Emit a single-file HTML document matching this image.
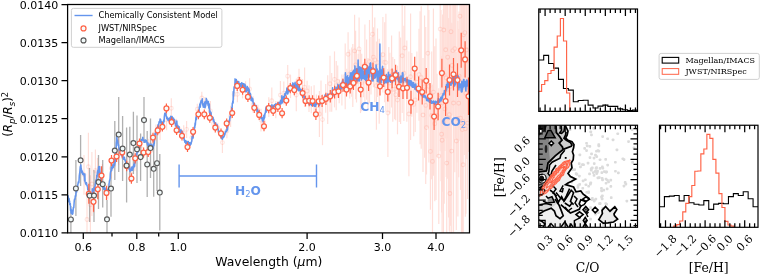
<!DOCTYPE html>
<html><head><meta charset="utf-8"><title>Transmission spectrum</title><style>html,body{margin:0;padding:0;background:#fff}body{width:760px;height:275px;overflow:hidden}</style></head><body>
<svg width="760" height="275" viewBox="0 0 760 275" style="display:block">
<rect width="760" height="275" fill="#fff"/>
<clipPath id="c"><rect x="67.6" y="4.5" width="401.9" height="228.4"/></clipPath>
<g clip-path="url(#c)">
<g stroke="#b0b0b0" stroke-width="1.3"><line x1="70.9" y1="206.0" x2="70.9" y2="232.9"/><line x1="75.9" y1="160.0" x2="75.9" y2="216.0"/><line x1="80.6" y1="135.0" x2="80.6" y2="186.0"/><line x1="89.6" y1="168.0" x2="89.6" y2="222.0"/><line x1="94.0" y1="170.0" x2="94.0" y2="222.0"/><line x1="98.5" y1="155.0" x2="98.5" y2="209.0"/><line x1="102.7" y1="160.0" x2="102.7" y2="207.5"/><line x1="107.0" y1="200.0" x2="107.0" y2="232.9"/><line x1="111.0" y1="162.0" x2="111.0" y2="216.7"/><line x1="114.8" y1="121.0" x2="114.8" y2="180.0"/><line x1="118.7" y1="97.0" x2="118.7" y2="172.0"/><line x1="122.6" y1="116.0" x2="122.6" y2="181.0"/><line x1="126.6" y1="127.6" x2="126.6" y2="202.5"/><line x1="129.8" y1="126.8" x2="129.8" y2="182.0"/><line x1="133.4" y1="111.7" x2="133.4" y2="174.0"/><line x1="137.0" y1="115.4" x2="137.0" y2="183.0"/><line x1="140.6" y1="133.5" x2="140.6" y2="181.0"/><line x1="144.0" y1="97.0" x2="144.0" y2="143.0"/><line x1="147.2" y1="131.0" x2="147.2" y2="197.0"/><line x1="150.5" y1="118.4" x2="150.5" y2="178.0"/><line x1="153.7" y1="141.0" x2="153.7" y2="196.7"/><line x1="157.0" y1="135.0" x2="157.0" y2="191.0"/><line x1="159.8" y1="154.0" x2="159.8" y2="230.5"/></g>
<g stroke="#ff6347" stroke-width="1.15" opacity="0.21"><line x1="84.0" y1="154.9" x2="84.0" y2="194.8"/><line x1="87.0" y1="195.8" x2="87.0" y2="232.9"/><line x1="88.4" y1="132.8" x2="88.4" y2="200.7"/><line x1="90.4" y1="175.2" x2="90.4" y2="232.9"/><line x1="91.9" y1="152.0" x2="91.9" y2="216.0"/><line x1="93.8" y1="186.0" x2="93.8" y2="212.7"/><line x1="95.4" y1="149.5" x2="95.4" y2="191.5"/><line x1="97.5" y1="157.9" x2="97.5" y2="184.9"/><line x1="102.3" y1="163.9" x2="102.3" y2="187.8"/><line x1="107.8" y1="184.1" x2="107.8" y2="199.5"/><line x1="111.3" y1="158.3" x2="111.3" y2="178.6"/><line x1="115.1" y1="148.2" x2="115.1" y2="167.1"/><line x1="118.6" y1="138.3" x2="118.6" y2="164.7"/><line x1="121.8" y1="149.1" x2="121.8" y2="159.0"/><line x1="127.7" y1="157.1" x2="127.7" y2="170.5"/><line x1="130.8" y1="166.2" x2="130.8" y2="182.5"/><line x1="134.9" y1="146.2" x2="134.9" y2="170.8"/><line x1="141.6" y1="140.9" x2="141.6" y2="156.8"/><line x1="148.5" y1="138.8" x2="148.5" y2="150.5"/><line x1="152.4" y1="137.3" x2="152.4" y2="152.3"/><line x1="155.9" y1="124.4" x2="155.9" y2="140.7"/><line x1="160.1" y1="118.3" x2="160.1" y2="139.9"/><line x1="166.6" y1="109.5" x2="166.6" y2="130.3"/><line x1="171.3" y1="98.2" x2="171.3" y2="118.5"/><line x1="176.5" y1="118.8" x2="176.5" y2="132.5"/><line x1="179.7" y1="126.8" x2="179.7" y2="133.1"/><line x1="183.7" y1="125.2" x2="183.7" y2="140.5"/><line x1="186.6" y1="120.9" x2="186.6" y2="137.9"/><line x1="191.8" y1="132.5" x2="191.8" y2="142.7"/><line x1="197.3" y1="103.7" x2="197.3" y2="114.6"/><line x1="201.8" y1="91.8" x2="201.8" y2="104.2"/><line x1="205.0" y1="97.0" x2="205.0" y2="108.9"/><line x1="210.4" y1="101.1" x2="210.4" y2="120.7"/><line x1="213.5" y1="120.5" x2="213.5" y2="127.2"/><line x1="217.7" y1="123.1" x2="217.7" y2="132.5"/><line x1="222.4" y1="132.1" x2="222.4" y2="153.1"/><line x1="226.9" y1="123.7" x2="226.9" y2="138.2"/><line x1="230.6" y1="105.8" x2="230.6" y2="127.1"/><line x1="234.1" y1="89.3" x2="234.1" y2="99.7"/><line x1="237.4" y1="86.4" x2="237.4" y2="102.2"/><line x1="242.5" y1="83.1" x2="242.5" y2="98.4"/><line x1="245.6" y1="81.2" x2="245.6" y2="93.5"/><line x1="249.6" y1="78.2" x2="249.6" y2="99.7"/><line x1="253.1" y1="96.3" x2="253.1" y2="112.7"/><line x1="257.9" y1="104.8" x2="257.9" y2="115.4"/><line x1="261.0" y1="108.8" x2="261.0" y2="131.4"/><line x1="263.8" y1="115.1" x2="263.8" y2="129.7"/><line x1="268.8" y1="97.3" x2="268.8" y2="116.9"/><line x1="271.8" y1="87.5" x2="271.8" y2="114.0"/><line x1="275.8" y1="101.1" x2="275.8" y2="118.2"/><line x1="280.4" y1="81.0" x2="280.4" y2="109.3"/><line x1="283.8" y1="81.6" x2="283.8" y2="104.5"/><line x1="287.7" y1="64.9" x2="287.7" y2="87.4"/><line x1="290.5" y1="74.6" x2="290.5" y2="98.1"/><line x1="296.3" y1="78.7" x2="296.3" y2="111.3"/><line x1="299.0" y1="68.7" x2="299.0" y2="89.3"/><line x1="302.5" y1="79.0" x2="302.5" y2="100.5"/><line x1="304.6" y1="67.6" x2="304.6" y2="107.0"/><line x1="307.1" y1="80.7" x2="307.1" y2="101.3"/><line x1="309.0" y1="85.2" x2="309.0" y2="112.0"/><line x1="311.3" y1="86.3" x2="311.3" y2="113.3"/><line x1="314.1" y1="85.3" x2="314.1" y2="115.6"/><line x1="316.4" y1="94.6" x2="316.4" y2="116.7"/><line x1="319.4" y1="91.0" x2="319.4" y2="136.9"/><line x1="321.0" y1="80.5" x2="321.0" y2="116.8"/><line x1="322.5" y1="94.0" x2="322.5" y2="145.2"/><line x1="325.7" y1="84.0" x2="325.7" y2="112.8"/><line x1="327.7" y1="75.2" x2="327.7" y2="124.1"/><line x1="330.0" y1="55.8" x2="330.0" y2="111.8"/><line x1="331.7" y1="72.9" x2="331.7" y2="111.7"/><line x1="334.5" y1="51.4" x2="334.5" y2="107.4"/><line x1="336.2" y1="60.9" x2="336.2" y2="110.3"/><line x1="337.7" y1="65.4" x2="337.7" y2="97.4"/><line x1="339.2" y1="79.4" x2="339.2" y2="103.3"/><line x1="341.9" y1="74.5" x2="341.9" y2="105.4"/><line x1="345.2" y1="43.5" x2="345.2" y2="109.2"/><line x1="346.8" y1="68.8" x2="346.8" y2="94.8"/><line x1="348.1" y1="32.3" x2="348.1" y2="76.2"/><line x1="349.7" y1="49.5" x2="349.7" y2="98.4"/><line x1="351.7" y1="47.6" x2="351.7" y2="96.7"/><line x1="352.8" y1="44.1" x2="352.8" y2="107.0"/><line x1="354.6" y1="14.8" x2="354.6" y2="87.0"/><line x1="355.6" y1="30.7" x2="355.6" y2="99.2"/><line x1="356.5" y1="49.9" x2="356.5" y2="102.5"/><line x1="358.2" y1="53.8" x2="358.2" y2="88.8"/><line x1="359.1" y1="17.4" x2="359.1" y2="80.4"/><line x1="360.5" y1="50.2" x2="360.5" y2="113.1"/><line x1="361.7" y1="53.7" x2="361.7" y2="111.3"/><line x1="363.4" y1="63.6" x2="363.4" y2="97.2"/><line x1="364.9" y1="24.6" x2="364.9" y2="104.4"/><line x1="366.6" y1="39.5" x2="366.6" y2="99.7"/><line x1="368.0" y1="57.9" x2="368.0" y2="109.4"/><line x1="369.5" y1="20.0" x2="369.5" y2="103.2"/><line x1="371.0" y1="36.9" x2="371.0" y2="94.6"/><line x1="372.4" y1="4.5" x2="372.4" y2="67.3"/><line x1="373.4" y1="27.3" x2="373.4" y2="87.2"/><line x1="374.8" y1="17.6" x2="374.8" y2="102.3"/><line x1="376.4" y1="41.5" x2="376.4" y2="129.8"/><line x1="377.5" y1="28.4" x2="377.5" y2="96.9"/><line x1="379.2" y1="38.8" x2="379.2" y2="123.8"/><line x1="381.1" y1="52.6" x2="381.1" y2="89.5"/><line x1="382.9" y1="16.9" x2="382.9" y2="92.5"/><line x1="384.7" y1="22.3" x2="384.7" y2="102.3"/><line x1="385.9" y1="13.7" x2="385.9" y2="111.5"/><line x1="387.9" y1="68.9" x2="387.9" y2="157.1"/><line x1="388.8" y1="47.1" x2="388.8" y2="102.0"/><line x1="389.9" y1="52.7" x2="389.9" y2="113.5"/><line x1="391.6" y1="35.4" x2="391.6" y2="107.6"/><line x1="392.8" y1="57.0" x2="392.8" y2="121.8"/><line x1="394.6" y1="59.1" x2="394.6" y2="119.2"/><line x1="395.7" y1="69.1" x2="395.7" y2="120.3"/><line x1="397.5" y1="65.6" x2="397.5" y2="134.3"/><line x1="399.3" y1="31.4" x2="399.3" y2="122.1"/><line x1="400.6" y1="37.5" x2="400.6" y2="123.9"/><line x1="402.2" y1="4.5" x2="402.2" y2="113.0"/><line x1="403.9" y1="25.7" x2="403.9" y2="121.0"/><line x1="404.8" y1="5.9" x2="404.8" y2="90.2"/><line x1="406.8" y1="40.6" x2="406.8" y2="121.7"/><line x1="408.9" y1="51.6" x2="408.9" y2="176.3"/><line x1="410.6" y1="13.4" x2="410.6" y2="140.1"/><line x1="411.8" y1="53.1" x2="411.8" y2="116.8"/><line x1="413.7" y1="72.5" x2="413.7" y2="136.3"/><line x1="415.2" y1="67.8" x2="415.2" y2="132.0"/><line x1="416.9" y1="51.4" x2="416.9" y2="112.7"/><line x1="419.0" y1="28.7" x2="419.0" y2="120.7"/><line x1="420.1" y1="11.2" x2="420.1" y2="144.2"/><line x1="421.2" y1="6.2" x2="421.2" y2="148.8"/><line x1="423.0" y1="57.9" x2="423.0" y2="172.1"/><line x1="424.6" y1="15.5" x2="424.6" y2="157.7"/><line x1="425.7" y1="27.0" x2="425.7" y2="183.9"/><line x1="426.5" y1="80.7" x2="426.5" y2="174.5"/><line x1="427.9" y1="4.5" x2="427.9" y2="127.8"/><line x1="428.9" y1="10.1" x2="428.9" y2="162.6"/><line x1="430.4" y1="93.1" x2="430.4" y2="209.7"/><line x1="431.7" y1="51.5" x2="431.7" y2="179.3"/><line x1="432.5" y1="84.6" x2="432.5" y2="232.9"/><line x1="433.4" y1="8.5" x2="433.4" y2="175.7"/><line x1="434.8" y1="46.2" x2="434.8" y2="201.2"/><line x1="436.0" y1="38.4" x2="436.0" y2="200.1"/><line x1="437.0" y1="73.8" x2="437.0" y2="157.0"/><line x1="438.8" y1="88.3" x2="438.8" y2="223.9"/><line x1="440.2" y1="4.5" x2="440.2" y2="151.3"/><line x1="441.0" y1="10.0" x2="441.0" y2="181.3"/><line x1="441.6" y1="56.1" x2="441.6" y2="212.4"/><line x1="442.1" y1="30.2" x2="442.1" y2="232.9"/><line x1="442.6" y1="14.5" x2="442.6" y2="191.7"/><line x1="443.4" y1="9.1" x2="443.4" y2="232.9"/><line x1="443.8" y1="4.5" x2="443.8" y2="99.6"/><line x1="444.2" y1="4.5" x2="444.2" y2="203.7"/><line x1="444.9" y1="66.8" x2="444.9" y2="151.0"/><line x1="445.7" y1="4.5" x2="445.7" y2="138.5"/><line x1="446.2" y1="4.5" x2="446.2" y2="176.9"/><line x1="446.7" y1="72.1" x2="446.7" y2="232.9"/><line x1="447.3" y1="4.5" x2="447.3" y2="178.7"/><line x1="447.7" y1="4.5" x2="447.7" y2="138.2"/><line x1="448.5" y1="18.1" x2="448.5" y2="217.5"/><line x1="449.3" y1="4.5" x2="449.3" y2="230.8"/><line x1="449.9" y1="55.1" x2="449.9" y2="232.9"/><line x1="450.4" y1="4.5" x2="450.4" y2="225.7"/><line x1="451.0" y1="4.5" x2="451.0" y2="145.9"/><line x1="451.7" y1="22.8" x2="451.7" y2="232.9"/><line x1="452.1" y1="23.5" x2="452.1" y2="107.4"/><line x1="452.8" y1="4.5" x2="452.8" y2="115.5"/><line x1="453.5" y1="4.5" x2="453.5" y2="232.2"/><line x1="454.2" y1="4.5" x2="454.2" y2="90.7"/><line x1="454.8" y1="4.5" x2="454.8" y2="172.2"/><line x1="455.5" y1="4.5" x2="455.5" y2="138.5"/><line x1="456.3" y1="52.0" x2="456.3" y2="229.9"/><line x1="457.0" y1="4.5" x2="457.0" y2="162.4"/><line x1="457.9" y1="20.9" x2="457.9" y2="216.4"/><line x1="458.7" y1="29.1" x2="458.7" y2="177.3"/><line x1="459.1" y1="11.5" x2="459.1" y2="140.7"/><line x1="460.0" y1="4.5" x2="460.0" y2="129.7"/><line x1="460.5" y1="46.5" x2="460.5" y2="189.9"/><line x1="461.0" y1="4.5" x2="461.0" y2="93.6"/><line x1="461.5" y1="4.5" x2="461.5" y2="232.9"/><line x1="462.3" y1="22.9" x2="462.3" y2="232.9"/><line x1="462.7" y1="4.5" x2="462.7" y2="232.9"/><line x1="463.1" y1="4.5" x2="463.1" y2="232.9"/><line x1="463.6" y1="4.5" x2="463.6" y2="114.0"/><line x1="464.3" y1="4.5" x2="464.3" y2="155.1"/><line x1="464.8" y1="4.5" x2="464.8" y2="142.9"/><line x1="465.3" y1="40.8" x2="465.3" y2="216.7"/><line x1="465.9" y1="4.5" x2="465.9" y2="213.8"/><line x1="466.5" y1="4.5" x2="466.5" y2="158.9"/><line x1="467.1" y1="4.5" x2="467.1" y2="133.0"/><line x1="467.6" y1="47.1" x2="467.6" y2="199.1"/><line x1="468.4" y1="4.5" x2="468.4" y2="152.1"/></g><g stroke="#ff6347" fill="#fff" fill-opacity="0.6" stroke-width="1.1" opacity="0.16"><circle cx="84.0" cy="174.8" r="1.9"/><circle cx="87.0" cy="219.5" r="1.9"/><circle cx="88.4" cy="166.8" r="1.9"/><circle cx="90.4" cy="204.7" r="1.9"/><circle cx="91.9" cy="184.0" r="1.9"/><circle cx="93.8" cy="199.4" r="1.9"/><circle cx="95.4" cy="170.5" r="1.9"/><circle cx="97.5" cy="171.4" r="1.9"/><circle cx="102.3" cy="175.9" r="1.9"/><circle cx="107.8" cy="191.8" r="1.9"/><circle cx="111.3" cy="168.4" r="1.9"/><circle cx="115.1" cy="157.6" r="1.9"/><circle cx="118.6" cy="151.5" r="1.9"/><circle cx="121.8" cy="154.0" r="1.9"/><circle cx="127.7" cy="163.8" r="1.9"/><circle cx="130.8" cy="174.3" r="1.9"/><circle cx="134.9" cy="158.5" r="1.9"/><circle cx="141.6" cy="148.9" r="1.9"/><circle cx="148.5" cy="144.6" r="1.9"/><circle cx="152.4" cy="144.8" r="1.9"/><circle cx="155.9" cy="132.5" r="1.9"/><circle cx="160.1" cy="129.1" r="1.9"/><circle cx="166.6" cy="119.9" r="1.9"/><circle cx="171.3" cy="108.3" r="1.9"/><circle cx="176.5" cy="125.7" r="1.9"/><circle cx="179.7" cy="129.9" r="1.9"/><circle cx="183.7" cy="132.9" r="1.9"/><circle cx="186.6" cy="129.4" r="1.9"/><circle cx="191.8" cy="137.6" r="1.9"/><circle cx="197.3" cy="109.2" r="1.9"/><circle cx="201.8" cy="98.0" r="1.9"/><circle cx="205.0" cy="103.0" r="1.9"/><circle cx="210.4" cy="110.9" r="1.9"/><circle cx="213.5" cy="123.8" r="1.9"/><circle cx="217.7" cy="127.8" r="1.9"/><circle cx="222.4" cy="142.6" r="1.9"/><circle cx="226.9" cy="130.9" r="1.9"/><circle cx="230.6" cy="116.5" r="1.9"/><circle cx="234.1" cy="94.5" r="1.9"/><circle cx="237.4" cy="94.3" r="1.9"/><circle cx="242.5" cy="90.7" r="1.9"/><circle cx="245.6" cy="87.4" r="1.9"/><circle cx="249.6" cy="89.0" r="1.9"/><circle cx="253.1" cy="104.5" r="1.9"/><circle cx="257.9" cy="110.1" r="1.9"/><circle cx="261.0" cy="120.1" r="1.9"/><circle cx="263.8" cy="122.4" r="1.9"/><circle cx="268.8" cy="107.1" r="1.9"/><circle cx="271.8" cy="100.8" r="1.9"/><circle cx="275.8" cy="109.7" r="1.9"/><circle cx="280.4" cy="95.1" r="1.9"/><circle cx="283.8" cy="93.1" r="1.9"/><circle cx="287.7" cy="76.2" r="1.9"/><circle cx="290.5" cy="86.4" r="1.9"/><circle cx="296.3" cy="95.0" r="1.9"/><circle cx="299.0" cy="79.0" r="1.9"/><circle cx="302.5" cy="89.8" r="1.9"/><circle cx="304.6" cy="87.3" r="1.9"/><circle cx="307.1" cy="91.0" r="1.9"/><circle cx="309.0" cy="98.6" r="1.9"/><circle cx="311.3" cy="99.8" r="1.9"/><circle cx="314.1" cy="100.4" r="1.9"/><circle cx="316.4" cy="105.7" r="1.9"/><circle cx="319.4" cy="114.0" r="1.9"/><circle cx="321.0" cy="98.7" r="1.9"/><circle cx="322.5" cy="119.6" r="1.9"/><circle cx="325.7" cy="98.4" r="1.9"/><circle cx="327.7" cy="99.6" r="1.9"/><circle cx="330.0" cy="83.8" r="1.9"/><circle cx="331.7" cy="92.3" r="1.9"/><circle cx="334.5" cy="79.4" r="1.9"/><circle cx="336.2" cy="85.6" r="1.9"/><circle cx="337.7" cy="81.4" r="1.9"/><circle cx="339.2" cy="91.3" r="1.9"/><circle cx="341.9" cy="89.9" r="1.9"/><circle cx="345.2" cy="76.4" r="1.9"/><circle cx="346.8" cy="81.8" r="1.9"/><circle cx="348.1" cy="54.3" r="1.9"/><circle cx="349.7" cy="74.0" r="1.9"/><circle cx="351.7" cy="72.2" r="1.9"/><circle cx="352.8" cy="75.5" r="1.9"/><circle cx="354.6" cy="50.9" r="1.9"/><circle cx="355.6" cy="64.9" r="1.9"/><circle cx="356.5" cy="76.2" r="1.9"/><circle cx="358.2" cy="71.3" r="1.9"/><circle cx="359.1" cy="48.9" r="1.9"/><circle cx="360.5" cy="81.7" r="1.9"/><circle cx="361.7" cy="82.5" r="1.9"/><circle cx="363.4" cy="80.4" r="1.9"/><circle cx="364.9" cy="64.5" r="1.9"/><circle cx="366.6" cy="69.6" r="1.9"/><circle cx="368.0" cy="83.7" r="1.9"/><circle cx="369.5" cy="61.6" r="1.9"/><circle cx="371.0" cy="65.7" r="1.9"/><circle cx="372.4" cy="34.2" r="1.9"/><circle cx="373.4" cy="57.2" r="1.9"/><circle cx="374.8" cy="59.9" r="1.9"/><circle cx="376.4" cy="85.7" r="1.9"/><circle cx="377.5" cy="62.6" r="1.9"/><circle cx="379.2" cy="81.3" r="1.9"/><circle cx="381.1" cy="71.1" r="1.9"/><circle cx="382.9" cy="54.7" r="1.9"/><circle cx="384.7" cy="62.3" r="1.9"/><circle cx="385.9" cy="62.6" r="1.9"/><circle cx="387.9" cy="113.0" r="1.9"/><circle cx="388.8" cy="74.6" r="1.9"/><circle cx="389.9" cy="83.1" r="1.9"/><circle cx="391.6" cy="71.5" r="1.9"/><circle cx="392.8" cy="89.4" r="1.9"/><circle cx="394.6" cy="89.2" r="1.9"/><circle cx="395.7" cy="94.7" r="1.9"/><circle cx="397.5" cy="100.0" r="1.9"/><circle cx="399.3" cy="76.8" r="1.9"/><circle cx="400.6" cy="80.7" r="1.9"/><circle cx="402.2" cy="55.8" r="1.9"/><circle cx="403.9" cy="73.3" r="1.9"/><circle cx="404.8" cy="48.0" r="1.9"/><circle cx="406.8" cy="81.2" r="1.9"/><circle cx="408.9" cy="114.0" r="1.9"/><circle cx="410.6" cy="76.8" r="1.9"/><circle cx="411.8" cy="84.9" r="1.9"/><circle cx="413.7" cy="104.4" r="1.9"/><circle cx="415.2" cy="99.9" r="1.9"/><circle cx="416.9" cy="82.1" r="1.9"/><circle cx="419.0" cy="74.7" r="1.9"/><circle cx="420.1" cy="77.7" r="1.9"/><circle cx="421.2" cy="77.5" r="1.9"/><circle cx="423.0" cy="115.0" r="1.9"/><circle cx="424.6" cy="86.6" r="1.9"/><circle cx="425.7" cy="105.4" r="1.9"/><circle cx="426.5" cy="127.6" r="1.9"/><circle cx="427.9" cy="53.3" r="1.9"/><circle cx="428.9" cy="86.4" r="1.9"/><circle cx="430.4" cy="151.4" r="1.9"/><circle cx="431.7" cy="115.4" r="1.9"/><circle cx="432.5" cy="161.4" r="1.9"/><circle cx="433.4" cy="92.1" r="1.9"/><circle cx="434.8" cy="123.7" r="1.9"/><circle cx="436.0" cy="119.2" r="1.9"/><circle cx="437.0" cy="115.4" r="1.9"/><circle cx="438.8" cy="156.1" r="1.9"/><circle cx="440.2" cy="29.1" r="1.9"/><circle cx="441.0" cy="95.6" r="1.9"/><circle cx="441.6" cy="134.2" r="1.9"/><circle cx="442.1" cy="140.2" r="1.9"/><circle cx="442.6" cy="103.1" r="1.9"/><circle cx="443.4" cy="122.0" r="1.9"/><circle cx="443.8" cy="30.0" r="1.9"/><circle cx="444.2" cy="74.9" r="1.9"/><circle cx="444.9" cy="108.9" r="1.9"/><circle cx="445.7" cy="49.8" r="1.9"/><circle cx="446.2" cy="77.9" r="1.9"/><circle cx="446.7" cy="163.1" r="1.9"/><circle cx="447.3" cy="89.5" r="1.9"/><circle cx="447.7" cy="57.2" r="1.9"/><circle cx="448.5" cy="117.8" r="1.9"/><circle cx="449.3" cy="114.7" r="1.9"/><circle cx="449.9" cy="193.5" r="1.9"/><circle cx="450.4" cy="86.5" r="1.9"/><circle cx="451.0" cy="31.7" r="1.9"/><circle cx="451.7" cy="151.1" r="1.9"/><circle cx="452.1" cy="65.4" r="1.9"/><circle cx="452.8" cy="50.6" r="1.9"/><circle cx="453.5" cy="103.0" r="1.9"/><circle cx="454.8" cy="48.6" r="1.9"/><circle cx="456.3" cy="141.0" r="1.9"/><circle cx="457.0" cy="81.3" r="1.9"/><circle cx="457.9" cy="118.7" r="1.9"/><circle cx="458.7" cy="103.2" r="1.9"/><circle cx="459.1" cy="76.1" r="1.9"/><circle cx="460.0" cy="16.2" r="1.9"/><circle cx="460.5" cy="118.2" r="1.9"/><circle cx="461.5" cy="123.0" r="1.9"/><circle cx="462.3" cy="129.6" r="1.9"/><circle cx="462.7" cy="121.2" r="1.9"/><circle cx="463.1" cy="164.8" r="1.9"/><circle cx="463.6" cy="34.7" r="1.9"/><circle cx="464.8" cy="32.7" r="1.9"/><circle cx="465.3" cy="128.8" r="1.9"/><circle cx="465.9" cy="93.4" r="1.9"/><circle cx="466.5" cy="50.0" r="1.9"/><circle cx="467.1" cy="61.0" r="1.9"/><circle cx="467.6" cy="123.1" r="1.9"/></g>
<polyline points="67.6,195.6 67.8,197.3 68.1,195.8 68.3,197.9 68.6,200.9 68.8,201.7 69.1,198.5 69.3,200.5 69.6,201.1 69.8,204.8 70.1,204.0 70.3,203.7 70.6,210.4 70.8,209.1 71.1,213.2 71.3,213.2 71.6,210.6 71.8,210.2 72.1,212.0 72.3,214.2 72.6,213.1 72.8,213.7 73.1,210.7 73.3,207.5 73.6,207.9 73.8,207.5 74.1,203.0 74.3,200.3 74.6,199.0 74.8,199.7 75.1,198.3 75.3,195.9 75.6,196.4 75.8,195.3 76.1,192.0 76.3,189.7 76.6,192.0 76.8,190.8 77.1,187.0 77.3,186.8 77.6,186.5 77.8,184.9 78.1,183.3 78.3,182.1 78.6,181.8 78.8,182.7 79.1,179.6 79.3,175.8 79.6,173.6 79.8,172.3 80.1,168.8 80.3,166.6 80.6,166.1 80.8,164.9 81.1,168.1 81.3,168.5 81.6,171.4 81.8,172.7 82.1,173.2 82.3,171.1 82.6,172.4 82.8,174.4 83.1,173.0 83.3,174.7 83.6,173.8 83.8,175.1 84.1,174.1 84.3,176.0 84.6,180.9 84.8,173.9 85.1,181.4 85.3,182.2 85.6,183.5 85.8,183.1 86.1,184.5 86.3,182.6 86.6,183.5 86.8,185.0 87.1,185.6 87.3,186.2 87.6,187.0 87.8,189.7 88.1,188.3 88.3,192.8 88.6,189.6 88.8,191.7 89.1,193.0 89.3,191.2 89.6,195.2 89.8,195.2 90.1,195.0 90.3,193.9 90.6,195.9 90.8,195.5 91.1,195.3 91.3,196.7 91.6,195.4 91.8,194.2 92.1,195.0 92.3,188.8 92.6,191.9 92.8,194.0 93.1,193.7 93.3,194.0 93.6,192.8 93.8,190.6 94.1,187.5 94.3,188.6 94.6,189.8 94.8,188.2 95.1,185.6 95.3,184.5 95.6,182.3 95.8,181.2 96.1,179.7 96.3,182.7 96.6,180.2 96.8,175.4 97.1,176.6 97.3,173.5 97.6,170.7 97.8,174.4 98.1,172.8 98.3,170.3 98.6,166.7 98.8,169.9 99.1,172.5 99.3,170.9 99.6,166.6 99.8,171.1 100.1,172.3 100.3,177.7 100.6,176.7 100.8,179.2 101.1,177.1 101.3,178.6 101.6,181.9 101.8,184.0 102.1,182.4 102.3,182.2 102.6,186.9 102.8,184.7 103.1,187.3 103.3,183.1 103.6,188.1 103.8,189.3 104.1,189.3 104.3,188.0 104.6,190.2 104.8,187.8 105.1,188.9 105.3,189.7 105.6,192.1 105.8,189.2 106.1,192.8 106.3,192.5 106.6,193.1 106.8,190.2 107.1,189.3 107.3,189.3 107.6,190.8 107.8,192.1 108.1,190.7 108.3,189.6 108.6,188.6 108.8,189.9 109.1,183.0 109.3,182.2 109.6,180.4 109.8,180.1 110.1,178.5 110.3,174.0 110.6,171.6 110.8,171.4 111.1,171.0 111.3,167.5 111.6,170.6 111.8,168.5 112.1,168.7 112.3,164.9 112.6,168.1 112.8,166.9 113.1,165.0 113.3,167.3 113.6,166.0 113.8,165.7 114.1,162.7 114.3,161.1 114.6,165.2 114.8,163.1 115.1,162.4 115.3,157.5 115.6,157.5 115.8,152.1 116.1,149.9 116.3,143.2 116.6,141.2 116.8,135.9 117.1,140.1 117.3,140.0 117.6,140.3 117.8,142.1 118.1,145.5 118.3,144.3 118.6,145.5 118.8,147.4 119.1,148.4 119.3,149.6 119.6,150.5 119.8,150.2 120.1,150.5 120.3,149.2 120.6,151.7 120.8,154.5 121.1,152.4 121.3,153.3 121.6,154.0 121.8,155.6 122.1,154.0 122.3,154.5 122.6,156.6 122.8,155.7 123.1,158.2 123.3,158.5 123.6,158.5 123.8,159.3 124.1,158.3 124.3,157.2 124.6,159.2 124.8,159.3 125.1,160.8 125.3,159.9 125.6,161.3 125.8,164.7 126.1,163.4 126.3,164.7 126.6,167.2 126.8,164.8 127.1,164.5 127.3,167.1 127.6,166.9 127.8,167.3 128.1,165.2 128.3,167.1 128.6,165.7 128.8,167.0 129.1,169.2 129.3,166.8 129.6,168.1 129.8,171.3 130.1,171.4 130.3,169.2 130.6,170.2 130.8,169.7 131.1,169.0 131.3,170.5 131.6,167.6 131.8,170.3 132.1,166.9 132.3,170.3 132.6,169.3 132.8,167.8 133.1,168.3 133.3,166.1 133.6,167.7 133.8,164.4 134.1,165.6 134.3,166.6 134.6,166.3 134.8,162.9 135.1,162.0 135.3,160.9 135.6,158.9 135.8,155.9 136.1,157.0 136.3,154.4 136.6,155.1 136.8,153.3 137.1,152.7 137.3,151.7 137.6,150.5 137.8,152.4 138.1,150.8 138.3,150.6 138.6,150.4 138.8,147.0 139.1,149.2 139.3,148.3 139.6,146.1 139.8,145.7 140.1,143.1 140.3,145.2 140.6,142.1 140.8,143.0 141.1,140.7 141.3,139.8 141.6,141.5 141.8,140.3 142.1,140.5 142.3,140.3 142.6,138.4 142.8,137.4 143.1,139.9 143.3,139.9 143.6,140.5 143.8,140.3 144.1,140.6 144.3,142.1 144.6,140.6 144.8,141.2 145.1,142.2 145.3,139.9 145.6,141.6 145.8,140.4 146.1,140.8 146.3,140.5 146.6,141.6 146.8,141.9 147.1,143.4 147.3,143.9 147.6,145.2 147.8,142.8 148.1,146.0 148.3,144.2 148.6,145.9 148.8,144.4 149.1,144.1 149.3,144.6 149.6,147.7 149.8,147.2 150.1,144.8 150.3,146.4 150.6,148.4 150.8,144.3 151.1,145.4 151.3,147.3 151.6,144.2 151.8,147.4 152.1,146.6 152.3,147.3 152.6,146.5 152.8,148.3 153.1,145.5 153.3,146.6 153.6,144.1 153.8,145.7 154.1,143.0 154.3,143.7 154.6,137.4 154.8,135.4 155.1,133.4 155.3,133.0 155.6,132.6 155.8,134.6 156.1,132.9 156.3,132.1 156.6,129.4 156.8,127.8 157.1,127.3 157.3,131.5 157.6,129.7 157.8,127.5 158.1,124.5 158.3,127.7 158.6,124.1 158.8,124.5 159.1,121.7 159.3,122.0 159.6,121.7 159.8,121.5 160.1,119.0 160.3,122.1 160.6,119.5 160.8,122.6 161.1,123.5 161.3,121.2 161.6,123.2 161.8,123.9 162.1,127.2 162.3,125.9 162.6,124.6 162.8,127.6 163.1,121.6 163.3,125.1 163.6,120.7 163.8,120.1 164.1,121.8 164.3,117.0 164.6,114.8 164.8,113.2 165.1,115.0 165.3,114.8 165.6,114.4 165.8,113.1 166.1,115.4 166.3,116.9 166.6,116.6 166.8,118.8 167.1,117.2 167.3,118.8 167.6,119.0 167.8,119.8 168.1,120.2 168.3,120.1 168.6,118.6 168.8,118.6 169.1,120.9 169.3,118.1 169.6,119.8 169.8,121.0 170.1,120.5 170.3,118.4 170.6,116.9 170.8,116.3 171.1,118.5 171.3,117.8 171.6,117.2 171.8,118.1 172.1,116.5 172.3,117.9 172.6,117.5 172.8,119.4 173.1,122.3 173.3,118.6 173.6,118.3 173.8,122.2 174.1,120.6 174.3,121.3 174.6,119.8 174.8,120.7 175.1,123.6 175.3,123.6 175.6,125.3 175.8,126.2 176.1,123.6 176.3,125.3 176.6,124.9 176.8,121.0 177.1,125.5 177.3,128.8 177.6,127.4 177.8,125.5 178.1,128.6 178.3,130.3 178.6,130.4 178.8,129.2 179.1,126.7 179.3,131.0 179.6,132.0 179.8,131.3 180.1,130.2 180.3,130.3 180.6,132.4 180.8,129.7 181.1,133.2 181.3,132.2 181.6,130.6 181.8,133.1 182.1,132.7 182.3,131.8 182.6,132.6 182.8,136.3 183.1,134.2 183.3,137.5 183.6,138.3 183.8,136.1 184.1,138.3 184.3,140.5 184.6,140.0 184.8,142.2 185.1,140.9 185.3,142.1 185.6,140.8 185.8,143.4 186.1,143.6 186.3,142.8 186.6,142.2 186.8,141.3 187.1,143.7 187.3,142.3 187.6,143.8 187.8,143.1 188.1,143.4 188.3,141.6 188.6,145.1 188.8,143.0 189.1,143.3 189.3,143.1 189.6,142.7 189.8,143.5 190.1,145.2 190.3,145.1 190.6,143.4 190.8,142.8 191.1,144.0 191.3,142.3 191.6,141.5 191.8,141.0 192.1,136.6 192.3,137.8 192.6,136.1 192.8,137.0 193.1,138.0 193.3,135.4 193.6,133.5 193.8,134.3 194.1,133.7 194.3,130.8 194.6,126.3 194.8,127.4 195.1,123.0 195.3,125.2 195.6,121.3 195.8,119.1 196.1,116.7 196.3,119.7 196.6,115.8 196.8,115.4 197.1,113.6 197.3,113.4 197.6,112.4 197.8,112.7 198.1,114.7 198.3,113.6 198.6,113.3 198.8,111.8 199.1,111.7 199.3,106.8 199.6,106.9 199.8,104.1 200.1,105.9 200.3,107.1 200.6,102.2 200.8,101.9 201.1,100.8 201.3,100.5 201.6,102.6 201.8,102.0 202.1,101.8 202.3,98.7 202.6,105.0 202.8,103.8 203.1,105.6 203.3,107.2 203.6,107.0 203.8,106.6 204.1,105.4 204.3,103.2 204.6,107.4 204.8,102.1 205.1,107.6 205.3,101.8 205.6,106.3 205.8,102.0 206.1,103.9 206.3,98.4 206.6,100.8 206.8,99.8 207.1,102.7 207.3,102.8 207.6,101.8 207.8,103.5 208.1,105.4 208.3,101.4 208.6,105.5 208.8,107.5 209.1,108.6 209.3,104.1 209.6,112.6 209.8,110.2 210.1,114.8 210.3,113.1 210.6,111.9 210.8,116.3 211.1,112.8 211.3,117.2 211.6,116.7 211.8,118.7 212.1,118.9 212.3,117.5 212.6,116.9 212.8,118.1 213.1,117.6 213.3,120.9 213.6,119.2 213.8,120.2 214.1,121.0 214.3,122.1 214.6,123.6 214.8,123.3 215.1,124.0 215.3,123.1 215.6,124.4 215.8,123.0 216.1,125.5 216.3,124.9 216.6,127.3 216.8,128.1 217.1,126.5 217.3,124.9 217.6,128.2 217.8,128.7 218.1,129.3 218.3,129.9 218.6,132.5 218.8,132.7 219.1,133.5 219.3,132.5 219.6,132.9 219.8,135.3 220.1,134.4 220.3,134.0 220.6,136.3 220.8,134.9 221.1,137.7 221.3,137.9 221.6,136.8 221.8,137.7 222.1,138.9 222.3,139.1 222.6,138.7 222.8,136.8 223.1,137.1 223.3,137.4 223.6,136.6 223.8,137.0 224.1,136.4 224.3,134.8 224.6,133.5 224.8,134.8 225.1,133.3 225.3,131.8 225.6,131.5 225.8,131.0 226.1,131.4 226.3,131.7 226.6,129.4 226.8,131.0 227.1,130.7 227.3,126.1 227.6,129.1 227.8,126.4 228.1,124.9 228.3,124.5 228.6,122.1 228.8,122.7 229.1,122.7 229.3,120.1 229.6,120.9 229.8,118.5 230.1,116.4 230.3,117.0 230.6,115.1 230.8,113.6 231.1,113.2 231.3,112.3 231.6,111.3 231.8,107.4 232.1,108.9 232.3,103.4 232.6,102.9 232.8,101.0 233.1,102.9 233.3,91.6 233.6,95.6 233.8,92.0 234.1,86.9 234.3,87.5 234.6,87.8 234.8,87.3 235.1,78.9 235.3,86.8 235.6,83.5 235.8,86.6 236.1,84.4 236.3,79.6 236.6,85.8 236.8,84.6 237.1,83.9 237.3,85.3 237.6,81.5 237.8,81.3 238.1,87.3 238.3,83.1 238.6,83.1 238.8,81.7 239.1,86.3 239.3,86.0 239.6,84.6 239.8,87.1 240.1,83.9 240.3,84.4 240.6,83.9 240.8,84.0 241.1,86.0 241.3,84.5 241.6,82.8 241.8,87.2 242.1,84.7 242.3,85.4 242.6,84.2 242.8,83.4 243.1,87.6 243.3,86.2 243.6,89.7 243.8,83.7 244.1,89.3 244.3,84.0 244.6,85.2 244.8,84.3 245.1,87.9 245.3,85.1 245.6,87.0 245.8,91.6 246.1,89.1 246.3,91.7 246.6,91.6 246.8,88.0 247.1,90.4 247.3,86.6 247.6,88.8 247.8,90.1 248.1,90.7 248.3,88.1 248.6,88.6 248.8,94.0 249.1,89.1 249.3,94.4 249.6,92.1 249.8,96.6 250.1,95.7 250.3,93.4 250.6,94.2 250.8,97.7 251.1,100.5 251.3,98.6 251.6,97.3 251.8,100.5 252.1,98.0 252.3,101.1 252.6,100.4 252.8,98.8 253.1,102.1 253.3,102.6 253.6,105.3 253.8,104.8 254.1,103.2 254.3,105.4 254.6,104.0 254.8,106.4 255.1,106.7 255.3,107.2 255.6,105.7 255.8,108.6 256.1,105.6 256.4,109.8 256.6,107.2 256.9,110.7 257.1,112.2 257.4,111.1 257.6,109.6 257.9,113.5 258.1,112.4 258.4,111.6 258.6,113.5 258.9,114.9 259.1,112.1 259.4,114.4 259.6,115.2 259.9,116.8 260.1,113.5 260.4,115.8 260.6,117.2 260.9,117.3 261.1,118.5 261.4,118.1 261.6,118.4 261.9,118.7 262.1,117.3 262.4,120.6 262.6,119.8 262.9,118.3 263.1,122.0 263.4,118.9 263.6,120.2 263.9,115.2 264.1,118.8 264.4,116.5 264.6,117.6 264.9,114.1 265.1,113.6 265.4,112.3 265.6,111.1 265.9,107.7 266.1,112.2 266.4,106.6 266.6,109.0 266.9,110.7 267.1,108.8 267.4,109.4 267.6,107.5 267.9,107.0 268.1,110.0 268.4,106.4 268.6,108.5 268.9,109.7 269.1,108.7 269.4,108.1 269.6,107.2 269.9,106.8 270.1,105.9 270.4,107.0 270.6,107.4 270.9,106.4 271.1,109.1 271.4,109.1 271.6,106.3 271.9,104.8 272.1,108.4 272.4,107.0 272.6,106.1 272.9,107.0 273.1,106.6 273.4,106.8 273.6,107.2 273.9,105.3 274.1,106.7 274.4,104.9 274.6,106.3 274.9,104.6 275.1,106.6 275.4,104.7 275.6,107.0 275.9,103.8 276.1,105.8 276.4,106.2 276.6,106.2 276.9,104.8 277.1,104.8 277.4,103.7 277.6,105.8 277.9,104.2 278.1,102.9 278.4,104.2 278.6,105.7 278.9,104.2 279.1,102.3 279.4,102.3 279.6,104.7 279.9,103.7 280.1,103.7 280.4,103.2 280.6,100.4 280.9,104.0 281.1,101.8 281.4,101.8 281.6,101.3 281.9,95.7 282.1,103.0 282.4,102.7 282.6,97.7 282.9,97.5 283.1,98.8 283.4,101.5 283.6,96.6 283.9,99.6 284.1,96.9 284.4,97.2 284.6,97.4 284.9,93.5 285.1,94.5 285.4,94.9 285.6,95.4 285.9,93.5 286.1,91.8 286.4,91.4 286.6,92.2 286.9,88.0 287.1,89.7 287.4,90.0 287.6,93.9 287.9,93.6 288.1,90.2 288.4,88.3 288.6,89.4 288.9,91.7 289.1,89.6 289.4,91.2 289.6,90.8 289.9,90.1 290.1,90.2 290.4,87.8 290.6,85.5 290.9,89.0 291.1,90.1 291.4,87.9 291.6,85.2 291.9,89.1 292.1,88.9 292.4,88.7 292.6,86.9 292.9,82.9 293.1,83.9 293.4,83.7 293.6,87.1 293.9,88.0 294.1,86.9 294.4,83.9 294.6,86.1 294.9,84.8 295.1,82.3 295.4,88.1 295.6,86.3 295.9,85.1 296.1,85.1 296.4,84.4 296.6,84.7 296.9,87.9 297.1,85.8 297.4,86.3 297.6,89.7 297.9,85.4 298.1,88.3 298.4,86.9 298.6,90.6 298.9,90.8 299.1,90.2 299.4,86.7 299.6,90.5 299.9,89.5 300.1,89.0 300.4,89.8 300.6,92.0 300.9,90.8 301.1,89.5 301.4,90.7 301.6,90.8 301.9,93.7 302.1,96.0 302.4,91.8 302.6,95.1 302.9,95.3 303.1,96.4 303.4,94.7 303.6,94.9 303.9,95.4 304.1,98.4 304.4,98.8 304.6,99.1 304.9,97.1 305.1,98.0 305.4,98.0 305.6,100.1 305.9,98.7 306.1,101.0 306.4,101.4 306.6,100.6 306.9,99.3 307.1,99.9 307.4,101.2 307.6,102.2 307.9,100.2 308.1,102.2 308.4,103.4 308.6,102.9 308.9,103.7 309.1,104.2 309.4,101.2 309.6,100.7 309.9,104.5 310.1,102.6 310.4,101.5 310.6,103.5 310.9,103.2 311.1,102.0 311.4,105.1 311.6,103.4 311.9,105.6 312.1,102.7 312.4,101.9 312.6,102.5 312.9,103.0 313.1,105.7 313.4,103.9 313.6,104.9 313.9,102.5 314.1,103.2 314.4,105.1 314.6,106.3 314.9,105.8 315.1,106.2 315.4,105.6 315.6,106.4 315.9,103.1 316.1,102.5 316.4,103.0 316.6,104.4 316.9,103.4 317.1,101.8 317.4,102.2 317.6,102.8 317.9,102.9 318.1,102.8 318.4,103.8 318.6,104.1 318.9,100.8 319.1,102.7 319.4,105.1 319.6,102.6 319.9,102.7 320.1,102.5 320.4,99.6 320.6,103.6 320.9,102.0 321.1,101.4 321.4,100.0 321.6,100.6 321.9,99.6 322.1,99.1 322.4,99.7 322.6,101.6 322.9,101.8 323.1,100.5 323.4,100.2 323.6,99.4 323.9,102.0 324.1,102.0 324.4,100.2 324.6,100.9 324.9,95.3 325.1,99.3 325.4,94.5 325.6,100.7 325.9,99.0 326.1,100.2 326.4,98.7 326.6,96.1 326.9,97.0 327.1,98.2 327.4,99.5 327.6,94.0 327.9,96.6 328.1,97.9 328.4,97.6 328.6,99.1 328.9,97.2 329.1,94.2 329.4,98.7 329.6,94.5 329.9,95.4 330.1,98.2 330.4,96.6 330.6,96.4 330.9,95.0 331.1,94.6 331.4,93.9 331.6,96.1 331.9,93.8 332.1,92.2 332.4,92.4 332.6,87.7 332.9,96.1 333.1,92.1 333.4,91.7 333.6,90.7 333.9,91.6 334.1,94.7 334.4,93.8 334.6,92.9 334.9,92.0 335.1,91.1 335.4,91.3 335.6,93.0 335.9,88.1 336.1,87.2 336.4,92.4 336.6,92.3 336.9,91.1 337.1,88.5 337.4,88.0 337.6,90.2 337.9,84.4 338.1,89.8 338.4,91.5 338.6,91.0 338.9,90.0 339.1,92.1 339.4,89.0 339.6,86.4 339.9,85.8 340.1,84.3 340.4,88.7 340.6,89.9 340.9,88.2 341.1,83.3 341.4,88.7 341.6,88.8 341.9,84.8 342.1,86.4 342.4,81.1 342.6,86.5 342.9,79.8 343.1,83.2 343.4,82.9 343.6,85.9 343.9,82.7 344.1,88.9 344.4,85.2 344.6,88.7 344.9,83.0 345.1,84.8 345.4,72.7 345.6,76.5 345.9,77.3 346.1,76.8 346.4,77.6 346.6,88.2 346.9,83.6 347.1,84.1 347.4,86.8 347.6,75.7 347.9,83.9 348.1,80.3 348.4,77.8 348.6,83.1 348.9,83.6 349.1,80.3 349.4,81.4 349.6,83.7 349.9,76.1 350.1,83.0 350.4,72.9 350.6,83.9 350.9,80.8 351.1,79.1 351.4,80.8 351.6,77.2 351.9,72.6 352.1,77.2 352.4,74.7 352.6,83.5 352.9,71.5 353.1,78.0 353.4,76.9 353.6,70.2 353.9,78.6 354.1,76.7 354.4,74.4 354.6,82.0 354.9,65.9 355.1,71.1 355.4,71.8 355.6,74.8 355.9,72.8 356.1,77.6 356.4,80.6 356.6,68.4 356.9,73.2 357.1,78.1 357.4,71.4 357.6,72.0 357.9,81.1 358.1,60.1 358.4,75.6 358.6,77.3 358.9,76.7 359.1,67.7 359.4,81.0 359.6,66.9 359.9,67.0 360.1,74.8 360.4,67.6 360.6,70.0 360.9,78.2 361.1,74.7 361.4,74.9 361.6,79.9 361.9,67.7 362.1,71.2 362.4,75.7 362.6,76.3 362.9,66.2 363.1,78.6 363.4,71.7 363.6,71.8 363.9,75.3 364.1,71.6 364.4,71.4 364.6,79.3 364.9,71.1 365.1,68.9 365.4,71.6 365.6,80.5 365.9,68.8 366.1,69.0 366.4,68.6 366.6,72.9 366.9,80.0 367.1,71.7 367.4,65.9 367.6,75.0 367.9,77.6 368.1,71.0 368.4,67.4 368.6,71.3 368.9,77.7 369.1,73.0 369.4,66.2 369.6,76.4 369.9,70.0 370.1,63.3 370.4,72.4 370.6,62.9 370.9,72.0 371.1,70.1 371.4,67.5 371.6,68.4 371.9,81.1 372.1,78.6 372.4,77.2 372.6,70.0 372.9,80.6 373.1,80.9 373.4,68.1 373.6,70.1 373.9,68.4 374.1,70.8 374.4,78.3 374.6,71.8 374.9,74.5 375.1,72.9 375.4,77.8 375.6,76.8 375.9,74.5 376.1,64.9 376.4,73.1 376.6,73.7 376.9,73.8 377.1,69.1 377.4,81.5 377.6,75.3 377.9,78.0 378.1,74.6 378.4,79.5 378.6,71.3 378.9,80.7 379.1,82.5 379.4,70.2 379.6,74.9 379.9,44.1 380.1,72.1 380.4,76.5 380.6,69.2 380.9,82.4 381.1,82.7 381.4,73.2 381.6,80.2 381.9,70.3 382.1,79.2 382.4,67.6 382.6,66.4 382.9,74.2 383.1,77.8 383.4,70.6 383.6,82.8 383.9,76.4 384.1,76.9 384.4,80.1 384.6,83.4 384.9,80.7 385.1,78.4 385.4,82.2 385.6,79.8 385.9,79.5 386.1,82.5 386.4,74.6 386.6,82.7 386.9,76.3 387.1,76.3 387.4,80.1 387.6,79.5 387.9,79.5 388.1,82.4 388.4,72.2 388.6,76.5 388.9,77.0 389.1,80.1 389.4,77.9 389.6,81.1 389.9,79.3 390.1,74.6 390.4,82.2 390.6,79.7 390.9,78.6 391.1,77.6 391.4,78.7 391.6,80.1 391.9,75.7 392.1,77.9 392.4,82.5 392.6,76.5 392.9,75.3 393.1,74.7 393.4,74.6 393.6,73.1 393.9,77.4 394.1,80.7 394.4,80.9 394.6,80.4 394.9,72.2 395.1,78.5 395.4,71.6 395.6,79.3 395.9,75.6 396.1,78.6 396.4,70.8 396.6,77.6 396.9,77.4 397.1,78.7 397.4,76.6 397.6,74.0 397.9,78.6 398.1,80.2 398.4,72.7 398.6,81.8 398.9,78.1 399.1,77.8 399.4,77.9 399.6,82.2 399.9,77.5 400.1,79.9 400.4,79.3 400.6,82.6 400.9,76.0 401.1,82.7 401.4,78.3 401.6,81.6 401.9,77.4 402.1,81.1 402.4,72.9 402.6,77.5 402.9,72.8 403.1,77.1 403.4,82.7 403.6,79.7 403.9,78.8 404.1,78.9 404.4,80.5 404.6,78.8 404.9,79.1 405.1,78.6 405.4,78.4 405.6,79.8 405.9,80.4 406.1,82.0 406.4,80.5 406.6,80.6 406.9,79.5 407.1,79.9 407.4,82.0 407.6,79.5 407.9,83.6 408.1,84.7 408.4,82.6 408.6,81.1 408.9,85.4 409.1,80.2 409.4,80.8 409.6,81.8 409.9,84.9 410.1,82.3 410.4,80.7 410.6,84.2 410.9,82.5 411.1,85.8 411.4,81.1 411.6,84.1 411.9,82.0 412.1,86.8 412.4,87.1 412.6,84.9 412.9,83.0 413.1,86.9 413.4,87.2 413.6,82.7 413.9,84.1 414.1,87.1 414.4,84.4 414.6,85.6 414.9,89.1 415.1,86.4 415.4,87.3 415.6,84.0 415.9,85.5 416.1,90.0 416.4,89.6 416.6,86.3 416.9,91.0 417.1,91.1 417.4,88.3 417.6,91.6 417.9,87.8 418.1,88.8 418.4,92.4 418.6,90.8 418.9,90.5 419.1,90.2 419.4,90.0 419.6,90.1 419.9,91.4 420.1,92.3 420.4,90.5 420.6,94.1 420.9,91.1 421.1,91.7 421.4,95.6 421.6,93.4 421.9,92.6 422.1,94.1 422.4,93.4 422.6,93.4 422.9,97.4 423.1,93.8 423.4,96.8 423.6,95.8 423.9,95.1 424.1,96.2 424.4,96.7 424.6,95.2 424.9,96.7 425.1,97.7 425.4,97.3 425.6,96.2 425.9,97.4 426.1,97.5 426.4,98.3 426.6,100.4 426.9,100.4 427.1,99.2 427.4,100.6 427.6,98.2 427.9,100.0 428.1,100.9 428.4,99.1 428.6,100.3 428.9,100.3 429.1,99.0 429.4,102.3 429.6,100.3 429.9,101.2 430.1,99.4 430.4,101.2 430.6,100.6 430.9,103.0 431.1,100.2 431.4,103.3 431.6,100.9 431.9,103.3 432.1,103.1 432.4,102.6 432.6,101.8 432.9,102.2 433.1,103.1 433.4,102.1 433.6,101.0 433.9,103.4 434.1,103.5 434.4,102.0 434.6,101.9 434.9,104.4 435.1,102.4 435.4,101.3 435.6,104.1 435.9,101.8 436.1,102.2 436.4,102.8 436.6,102.4 436.9,101.4 437.1,101.4 437.4,102.2 437.6,100.8 437.9,103.5 438.1,101.1 438.4,98.5 438.6,100.3 438.9,100.2 439.1,102.5 439.4,100.6 439.6,101.5 439.9,101.6 440.1,98.7 440.4,100.4 440.6,98.6 440.9,97.4 441.1,100.8 441.4,98.8 441.6,98.2 441.9,99.4 442.1,96.0 442.4,98.2 442.6,95.2 442.9,95.8 443.1,93.6 443.4,94.1 443.6,93.2 443.9,94.6 444.1,94.8 444.4,90.5 444.6,90.5 444.9,92.1 445.1,92.8 445.4,92.3 445.6,91.4 445.9,90.3 446.1,89.1 446.4,84.7 446.6,90.0 446.9,85.5 447.1,86.2 447.4,82.6 447.6,82.9 447.9,83.5 448.1,87.5 448.4,84.5 448.6,84.5 448.9,81.4 449.1,84.3 449.4,79.4 449.6,79.8 449.9,82.0 450.1,78.2 450.4,85.1 450.6,78.5 450.9,80.7 451.1,85.3 451.4,79.1 451.6,81.1 451.9,82.2 452.1,79.3 452.4,77.4 452.6,80.4 452.9,83.7 453.1,72.1 453.4,82.6 453.6,77.6 453.9,79.3 454.1,86.0 454.4,75.5 454.6,86.0 454.9,75.4 455.1,85.0 455.4,79.6 455.6,83.9 455.9,77.9 456.1,77.3 456.4,76.3 456.6,75.3 456.9,80.2 457.1,75.8 457.4,79.2 457.6,87.5 457.9,83.8 458.1,81.4 458.4,76.0 458.6,76.5 458.9,89.9 459.1,82.2 459.4,84.6 459.6,86.9 459.9,85.3 460.1,87.5 460.4,85.0 460.6,84.2 460.9,83.9 461.1,90.3 461.4,91.9 461.6,83.5 461.9,81.2 462.1,91.8 462.4,82.8 462.6,89.2 462.9,82.3 463.1,87.5 463.4,83.6 463.6,79.7 463.9,79.5 464.1,83.6 464.4,86.0 464.6,85.7 464.9,85.8 465.1,86.8 465.4,81.4 465.6,89.1 465.9,90.9 466.1,86.1 466.4,86.4 466.6,81.3 466.9,79.9 467.1,82.9 467.4,85.6 467.6,80.8 467.9,84.4 468.1,86.0 468.4,86.9 468.6,89.7 468.9,86.6 469.1,81.3 469.4,83.2" fill="none" stroke="#6495ed" stroke-width="1.55" stroke-linejoin="round"/>
<g stroke="#ff6347" stroke-width="1.2"><line x1="88.8" y1="183.7" x2="88.8" y2="203.7"/><line x1="93.5" y1="191.8" x2="93.5" y2="211.8"/><line x1="97.8" y1="179.2" x2="97.8" y2="199.2"/><line x1="101.5" y1="166.3" x2="101.5" y2="184.9"/><line x1="106.5" y1="185.8" x2="106.5" y2="200.0"/><line x1="111.5" y1="155.1" x2="111.5" y2="166.1"/><line x1="116.6" y1="151.1" x2="116.6" y2="161.9"/><line x1="122.2" y1="147.2" x2="122.2" y2="157.8"/><line x1="126.6" y1="160.7" x2="126.6" y2="171.3"/><line x1="131.4" y1="173.3" x2="131.4" y2="183.7"/><line x1="135.2" y1="153.2" x2="135.2" y2="163.4"/><line x1="139.5" y1="138.4" x2="139.5" y2="148.6"/><line x1="143.6" y1="147.6" x2="143.6" y2="157.6"/><line x1="148.2" y1="147.1" x2="148.2" y2="157.1"/><line x1="153.0" y1="132.7" x2="153.0" y2="142.5"/><line x1="157.7" y1="125.6" x2="157.7" y2="135.2"/><line x1="162.4" y1="122.0" x2="162.4" y2="131.6"/><line x1="166.4" y1="103.6" x2="166.4" y2="113.2"/><line x1="171.6" y1="117.3" x2="171.6" y2="126.9"/><line x1="176.6" y1="125.4" x2="176.6" y2="135.0"/><line x1="182.0" y1="130.8" x2="182.0" y2="140.6"/><line x1="187.5" y1="142.2" x2="187.5" y2="152.0"/><line x1="193.1" y1="126.9" x2="193.1" y2="136.7"/><line x1="198.4" y1="109.4" x2="198.4" y2="119.2"/><line x1="204.3" y1="109.4" x2="204.3" y2="119.2"/><line x1="209.8" y1="112.9" x2="209.8" y2="122.7"/><line x1="215.3" y1="122.6" x2="215.3" y2="132.6"/><line x1="221.0" y1="128.4" x2="221.0" y2="138.4"/><line x1="226.7" y1="118.4" x2="226.7" y2="128.4"/><line x1="232.2" y1="108.0" x2="232.2" y2="118.0"/><line x1="237.2" y1="80.9" x2="237.2" y2="90.9"/><line x1="242.6" y1="84.7" x2="242.6" y2="94.7"/><line x1="247.9" y1="91.8" x2="247.9" y2="102.0"/><line x1="254.3" y1="102.7" x2="254.3" y2="112.9"/><line x1="259.2" y1="109.8" x2="259.2" y2="120.0"/><line x1="264.0" y1="121.1" x2="264.0" y2="131.3"/><line x1="268.7" y1="103.0" x2="268.7" y2="113.2"/><line x1="273.2" y1="105.7" x2="273.2" y2="115.9"/><line x1="277.9" y1="101.7" x2="277.9" y2="111.9"/><line x1="282.1" y1="108.1" x2="282.1" y2="118.3"/><line x1="286.3" y1="95.4" x2="286.3" y2="105.8"/><line x1="290.3" y1="82.9" x2="290.3" y2="93.3"/><line x1="294.3" y1="84.9" x2="294.3" y2="95.3"/><line x1="299.3" y1="77.1" x2="299.3" y2="87.5"/><line x1="302.6" y1="87.7" x2="302.6" y2="98.3"/><line x1="305.5" y1="95.6" x2="305.5" y2="106.4"/><line x1="309.2" y1="95.2" x2="309.2" y2="106.2"/><line x1="312.6" y1="95.3" x2="312.6" y2="106.7"/><line x1="315.9" y1="108.4" x2="315.9" y2="120.0"/><line x1="318.7" y1="95.4" x2="318.7" y2="107.2"/><line x1="322.1" y1="95.0" x2="322.1" y2="107.0"/><line x1="325.9" y1="92.7" x2="325.9" y2="104.9"/><line x1="330.3" y1="90.0" x2="330.3" y2="102.6"/><line x1="334.6" y1="85.7" x2="334.6" y2="98.5"/><line x1="338.5" y1="84.7" x2="338.5" y2="97.9"/><line x1="343.0" y1="78.4" x2="343.0" y2="91.8"/><line x1="346.5" y1="82.7" x2="346.5" y2="96.5"/><line x1="350.2" y1="79.4" x2="350.2" y2="93.4"/><line x1="353.5" y1="75.7" x2="353.5" y2="90.1"/><line x1="356.9" y1="68.4" x2="356.9" y2="83.4"/><line x1="360.7" y1="81.9" x2="360.7" y2="97.3"/><line x1="364.8" y1="58.7" x2="364.8" y2="74.7"/><line x1="368.6" y1="74.3" x2="368.6" y2="90.9"/><line x1="373.0" y1="62.6" x2="373.0" y2="79.8"/><line x1="380.0" y1="77.2" x2="380.0" y2="95.4"/><line x1="383.7" y1="68.2" x2="383.7" y2="87.0"/><line x1="387.8" y1="82.3" x2="387.8" y2="101.5"/><line x1="392.1" y1="68.5" x2="392.1" y2="88.3"/><line x1="395.6" y1="64.8" x2="395.6" y2="85.2"/><line x1="399.0" y1="76.3" x2="399.0" y2="97.1"/><line x1="403.0" y1="77.5" x2="403.0" y2="99.1"/><line x1="407.0" y1="76.7" x2="407.0" y2="98.9"/><line x1="411.0" y1="90.8" x2="411.0" y2="113.8"/><line x1="414.7" y1="56.8" x2="414.7" y2="80.4"/><line x1="418.6" y1="76.4" x2="418.6" y2="100.6"/><line x1="422.2" y1="79.6" x2="422.2" y2="104.4"/><line x1="426.2" y1="68.0" x2="426.2" y2="93.6"/><line x1="430.0" y1="83.1" x2="430.0" y2="109.4"/><line x1="434.1" y1="103.1" x2="434.1" y2="130.1"/><line x1="438.1" y1="92.7" x2="438.1" y2="120.3"/><line x1="441.9" y1="58.8" x2="441.9" y2="87.4"/><line x1="445.6" y1="86.1" x2="445.6" y2="115.9"/><line x1="449.5" y1="64.4" x2="449.5" y2="95.6"/><line x1="453.5" y1="58.0" x2="453.5" y2="90.5"/><line x1="457.5" y1="63.2" x2="457.5" y2="97.0"/><line x1="461.2" y1="32.8" x2="461.2" y2="67.8"/><line x1="465.1" y1="41.2" x2="465.1" y2="77.6"/><line x1="468.5" y1="77.5" x2="468.5" y2="115.0"/></g><g stroke="#ff6347" stroke-width="1.25" fill="#f4fcfc"><circle cx="88.8" cy="193.7" r="2.45"/><circle cx="93.5" cy="201.8" r="2.45"/><circle cx="97.8" cy="189.2" r="2.45"/><circle cx="101.5" cy="175.6" r="2.45"/><circle cx="106.5" cy="192.9" r="2.45"/><circle cx="111.5" cy="160.6" r="2.45"/><circle cx="116.6" cy="156.5" r="2.45"/><circle cx="122.2" cy="152.5" r="2.45"/><circle cx="126.6" cy="166.0" r="2.45"/><circle cx="131.4" cy="178.5" r="2.45"/><circle cx="135.2" cy="158.3" r="2.45"/><circle cx="139.5" cy="143.5" r="2.45"/><circle cx="143.6" cy="152.6" r="2.45"/><circle cx="148.2" cy="152.1" r="2.45"/><circle cx="153.0" cy="137.6" r="2.45"/><circle cx="157.7" cy="130.4" r="2.45"/><circle cx="162.4" cy="126.8" r="2.45"/><circle cx="166.4" cy="108.4" r="2.45"/><circle cx="171.6" cy="122.1" r="2.45"/><circle cx="176.6" cy="130.2" r="2.45"/><circle cx="182.0" cy="135.7" r="2.45"/><circle cx="187.5" cy="147.1" r="2.45"/><circle cx="193.1" cy="131.8" r="2.45"/><circle cx="198.4" cy="114.3" r="2.45"/><circle cx="204.3" cy="114.3" r="2.45"/><circle cx="209.8" cy="117.8" r="2.45"/><circle cx="215.3" cy="127.6" r="2.45"/><circle cx="221.0" cy="133.4" r="2.45"/><circle cx="226.7" cy="123.4" r="2.45"/><circle cx="232.2" cy="113.0" r="2.45"/><circle cx="237.2" cy="85.9" r="2.45"/><circle cx="242.6" cy="89.7" r="2.45"/><circle cx="247.9" cy="96.9" r="2.45"/><circle cx="254.3" cy="107.8" r="2.45"/><circle cx="259.2" cy="114.9" r="2.45"/><circle cx="264.0" cy="126.2" r="2.45"/><circle cx="268.7" cy="108.1" r="2.45"/><circle cx="273.2" cy="110.8" r="2.45"/><circle cx="277.9" cy="106.8" r="2.45"/><circle cx="282.1" cy="113.2" r="2.45"/><circle cx="286.3" cy="100.6" r="2.45"/><circle cx="290.3" cy="88.1" r="2.45"/><circle cx="294.3" cy="90.1" r="2.45"/><circle cx="299.3" cy="82.3" r="2.45"/><circle cx="302.6" cy="93.0" r="2.45"/><circle cx="305.5" cy="101.0" r="2.45"/><circle cx="309.2" cy="100.7" r="2.45"/><circle cx="312.6" cy="101.0" r="2.45"/><circle cx="315.9" cy="114.2" r="2.45"/><circle cx="318.7" cy="101.3" r="2.45"/><circle cx="322.1" cy="101.0" r="2.45"/><circle cx="325.9" cy="98.8" r="2.45"/><circle cx="330.3" cy="96.3" r="2.45"/><circle cx="334.6" cy="92.1" r="2.45"/><circle cx="338.5" cy="91.3" r="2.45"/><circle cx="343.0" cy="85.1" r="2.45"/><circle cx="346.5" cy="89.6" r="2.45"/><circle cx="350.2" cy="86.4" r="2.45"/><circle cx="353.5" cy="82.9" r="2.45"/><circle cx="356.9" cy="75.9" r="2.45"/><circle cx="360.7" cy="89.6" r="2.45"/><circle cx="364.8" cy="66.7" r="2.45"/><circle cx="368.6" cy="82.6" r="2.45"/><circle cx="373.0" cy="71.2" r="2.45"/><circle cx="380.0" cy="86.3" r="2.45"/><circle cx="383.7" cy="77.6" r="2.45"/><circle cx="387.8" cy="91.9" r="2.45"/><circle cx="392.1" cy="78.4" r="2.45"/><circle cx="395.6" cy="75.0" r="2.45"/><circle cx="399.0" cy="86.7" r="2.45"/><circle cx="403.0" cy="88.3" r="2.45"/><circle cx="407.0" cy="87.8" r="2.45"/><circle cx="411.0" cy="102.3" r="2.45"/><circle cx="414.7" cy="68.6" r="2.45"/><circle cx="418.6" cy="88.5" r="2.45"/><circle cx="422.2" cy="92.0" r="2.45"/><circle cx="426.2" cy="80.8" r="2.45"/><circle cx="430.0" cy="96.2" r="2.45"/><circle cx="434.1" cy="116.6" r="2.45"/><circle cx="438.1" cy="106.5" r="2.45"/><circle cx="441.9" cy="73.1" r="2.45"/><circle cx="445.6" cy="101.0" r="2.45"/><circle cx="449.5" cy="80.0" r="2.45"/><circle cx="453.5" cy="74.2" r="2.45"/><circle cx="457.5" cy="80.1" r="2.45"/><circle cx="461.2" cy="50.3" r="2.45"/><circle cx="465.1" cy="59.4" r="2.45"/><circle cx="468.5" cy="96.2" r="2.45"/></g>
<g stroke="#5a5a5a" stroke-width="1.15" fill="#f0f8f8"><circle cx="70.9" cy="219.4" r="2.45"/><circle cx="75.9" cy="188.4" r="2.45"/><circle cx="80.6" cy="160.3" r="2.45"/><circle cx="89.6" cy="195.6" r="2.45"/><circle cx="94.0" cy="195.6" r="2.45"/><circle cx="98.5" cy="182.0" r="2.45"/><circle cx="102.7" cy="184.2" r="2.45"/><circle cx="107.0" cy="219.3" r="2.45"/><circle cx="111.0" cy="188.5" r="2.45"/><circle cx="114.8" cy="150.5" r="2.45"/><circle cx="118.7" cy="134.5" r="2.45"/><circle cx="122.6" cy="148.6" r="2.45"/><circle cx="126.6" cy="165.5" r="2.45"/><circle cx="129.8" cy="154.5" r="2.45"/><circle cx="133.4" cy="143.0" r="2.45"/><circle cx="137.0" cy="149.3" r="2.45"/><circle cx="140.6" cy="157.1" r="2.45"/><circle cx="144.0" cy="120.1" r="2.45"/><circle cx="147.2" cy="164.4" r="2.45"/><circle cx="150.5" cy="148.0" r="2.45"/><circle cx="153.7" cy="168.8" r="2.45"/><circle cx="157.0" cy="163.2" r="2.45"/><circle cx="159.8" cy="192.5" r="2.45"/></g>
</g>
<g stroke="#6495ed" stroke-width="1.4" fill="none"><path d="M179.1 176H316.5M179.1 164.6V187.4M316.5 164.6V187.4"/></g>
<g style="font-family:'DejaVu Sans','Liberation Sans',sans-serif;font-weight:bold;font-size:12.2px" fill="#6495ed">
<text x="235" y="195">H<tspan font-size="8.4" font-weight="normal" dy="2.2">2</tspan><tspan dy="-2.2">O</tspan></text>
<text x="360.3" y="111">CH<tspan font-size="8.4" font-weight="normal" dy="2.2">4</tspan></text>
<text x="441.5" y="126">CO<tspan font-size="8.4" font-weight="normal" dy="2.2">2</tspan></text>
</g>
<rect x="67.6" y="4.5" width="401.9" height="228.4" fill="none" stroke="#000" stroke-width="1.25"/>
<path d="M61.5 232.9H67.6M61.5 194.8H67.6M61.5 156.8H67.6M61.5 118.7H67.6M61.5 80.6H67.6M61.5 42.6H67.6M61.5 4.5H67.6M83.3 232.9V238.9M136.8 232.9V238.9M178.3 232.9V238.9M307.1 232.9V238.9M382.5 232.9V238.9M436.0 232.9V238.9M112.0 232.9V236.4M158.7 232.9V236.4" stroke="#000" stroke-width="1.25" fill="none"/>
<g style="font-family:'DejaVu Sans','Liberation Sans',sans-serif;font-size:11px" fill="#000">
<text x="58.2" y="237.0" text-anchor="end">0.0110</text>
<text x="58.2" y="198.9" text-anchor="end">0.0115</text>
<text x="58.2" y="160.9" text-anchor="end">0.0120</text>
<text x="58.2" y="122.8" text-anchor="end">0.0125</text>
<text x="58.2" y="84.7" text-anchor="end">0.0130</text>
<text x="58.2" y="46.7" text-anchor="end">0.0135</text>
<text x="58.2" y="8.6" text-anchor="end">0.0140</text>
<text x="83.3" y="250.6" text-anchor="middle">0.6</text>
<text x="136.8" y="250.6" text-anchor="middle">0.8</text>
<text x="178.3" y="250.6" text-anchor="middle">1.0</text>
<text x="307.1" y="250.6" text-anchor="middle">2.0</text>
<text x="382.5" y="250.6" text-anchor="middle">3.0</text>
<text x="436.0" y="250.6" text-anchor="middle">4.0</text>
</g>
<text x="268.8" y="265.5" text-anchor="middle" style="font-family:'DejaVu Sans','Liberation Sans',sans-serif;font-size:12.4px">Wavelength (<tspan font-style="italic">μ</tspan>m)</text>
<text transform="translate(12.3 114.4) rotate(-90)" text-anchor="middle" style="font-family:'DejaVu Sans','Liberation Sans',sans-serif;font-size:11.8px">(<tspan font-style="italic">R</tspan><tspan font-size="8.7" font-style="italic" dy="2.5">p</tspan><tspan dy="-2.5">/</tspan><tspan font-style="italic">R</tspan><tspan font-size="8.7" font-style="italic" dy="2.5">s</tspan><tspan dy="-2.5">)</tspan><tspan font-size="8.3" dy="-4.2">2</tspan></text>
<rect x="71.4" y="8.4" width="150.5" height="38.9" rx="2" fill="#fff" fill-opacity="0.8" stroke="#d0d0d0" stroke-width="1"/>
<path d="M74.5 15.5H92.6" stroke="#6495ed" stroke-width="1.4"/>
<circle cx="83.5" cy="28.4" r="2.5" fill="#f4fcfc" stroke="#ff6347" stroke-width="1.25"/>
<circle cx="83.5" cy="40.4" r="2.5" fill="#f0f8f8" stroke="#5a5a5a" stroke-width="1.15"/>
<g style="font-family:'DejaVu Sans','Liberation Sans',sans-serif;font-size:8.28px" fill="#000"><text x="98.5" y="17.8">Chemically Consistent Model</text><text x="98.5" y="30.6">JWST/NIRSpec</text><text x="98.5" y="42.6">Magellan/IMACS</text></g>
<path d="M538.75 60.00V60.00H543.69V55.40H548.62V63.50H553.56V68.10H558.50V79.40H563.44V88.50H568.38V90.10H573.31V101.75H578.25V100.50H583.19V100.20H588.12V105.10H593.06V108.00H598.00V106.10H602.94V105.10H607.88V106.40H612.81V106.40H617.75V108.90H622.69V109.75H627.62V110.50H632.56V110.10H637.50" fill="none" stroke="#000" stroke-width="1.1"/>
<path d="M538.75 91.4V91.40H541.60V84.50H544.75V80.60H547.90V73.50H551.00V70.50H554.10V47.10H557.25V36.00H560.40V18.50H563.50V41.00H566.60V93.00H569.75V111.40" fill="none" stroke="#ff6347" stroke-width="1.15"/>
<path d="M659.50 206.70V206.70H664.42V196.60H669.35V196.10H674.27V195.50H679.20V200.90H684.12V195.50H689.05V202.80H693.98V204.30H698.90V205.00H703.83V200.60H708.75V209.40H713.67V204.10H718.60V203.40H723.52V203.80H728.45V196.60H733.38V193.60H738.30V195.50H743.23V191.70H748.15V198.70H753.08V206.70H758.00" fill="none" stroke="#000" stroke-width="1.1"/>
<path d="M673.73 227.30V226.10H676.74V224.60H679.75V221.00H682.77V211.80H685.78V203.40H688.79V196.60H691.80V185.50H694.82V171.20H697.83V171.00H700.84V153.90H703.86V149.00H706.87V134.40H709.88V138.40H712.90V159.30H715.91V173.10H718.92V193.60H721.94V207.50H724.95V221.30H727.96V225.00H730.98V226.10H733.99V227.30" fill="none" stroke="#ff6347" stroke-width="1.15"/>
<clipPath id="cc"><rect x="538.75" y="125.25" width="98.75" height="102.05"/></clipPath>
<g clip-path="url(#cc)">
<g fill="#000" opacity="0.14"><rect x="625.5" y="199.7" width="2.7" height="2.7" rx="0.8"/><rect x="565.4" y="158.3" width="2.7" height="2.7" rx="0.8"/><rect x="616.4" y="132.4" width="2.7" height="2.7" rx="0.8"/><rect x="588.2" y="172.6" width="2.7" height="2.7" rx="0.8"/><rect x="609.9" y="196.3" width="2.7" height="2.7" rx="0.8"/><rect x="584.6" y="183.4" width="2.7" height="2.7" rx="0.8"/><rect x="604.3" y="158.1" width="2.7" height="2.7" rx="0.8"/><rect x="567.0" y="156.4" width="2.7" height="2.7" rx="0.8"/><rect x="598.0" y="176.2" width="2.7" height="2.7" rx="0.8"/><rect x="584.2" y="220.0" width="2.7" height="2.7" rx="0.8"/><rect x="636.2" y="151.0" width="2.7" height="2.7" rx="0.8"/><rect x="564.1" y="188.0" width="2.7" height="2.7" rx="0.8"/><rect x="562.1" y="168.7" width="2.7" height="2.7" rx="0.8"/><rect x="600.9" y="213.0" width="2.7" height="2.7" rx="0.8"/><rect x="589.2" y="217.8" width="2.7" height="2.7" rx="0.8"/><rect x="578.0" y="174.7" width="2.7" height="2.7" rx="0.8"/><rect x="592.0" y="171.2" width="2.7" height="2.7" rx="0.8"/><rect x="605.2" y="170.5" width="2.7" height="2.7" rx="0.8"/><rect x="585.4" y="190.9" width="2.7" height="2.7" rx="0.8"/><rect x="586.7" y="161.8" width="2.7" height="2.7" rx="0.8"/><rect x="623.8" y="181.1" width="2.7" height="2.7" rx="0.8"/><rect x="601.0" y="194.5" width="2.7" height="2.7" rx="0.8"/><rect x="583.3" y="147.1" width="2.7" height="2.7" rx="0.8"/><rect x="589.0" y="182.8" width="2.7" height="2.7" rx="0.8"/><rect x="611.7" y="138.5" width="2.7" height="2.7" rx="0.8"/><rect x="562.2" y="191.5" width="2.7" height="2.7" rx="0.8"/><rect x="578.6" y="193.1" width="2.7" height="2.7" rx="0.8"/><rect x="601.3" y="135.2" width="2.7" height="2.7" rx="0.8"/><rect x="591.0" y="196.9" width="2.7" height="2.7" rx="0.8"/><rect x="594.5" y="197.7" width="2.7" height="2.7" rx="0.8"/><rect x="598.9" y="202.2" width="2.7" height="2.7" rx="0.8"/><rect x="615.6" y="148.5" width="2.7" height="2.7" rx="0.8"/><rect x="606.1" y="178.9" width="2.7" height="2.7" rx="0.8"/><rect x="569.0" y="220.4" width="2.7" height="2.7" rx="0.8"/><rect x="596.5" y="149.3" width="2.7" height="2.7" rx="0.8"/><rect x="594.7" y="167.1" width="2.7" height="2.7" rx="0.8"/><rect x="572.1" y="216.0" width="2.7" height="2.7" rx="0.8"/><rect x="602.1" y="223.5" width="2.7" height="2.7" rx="0.8"/><rect x="596.1" y="169.8" width="2.7" height="2.7" rx="0.8"/><rect x="572.3" y="193.6" width="2.7" height="2.7" rx="0.8"/><rect x="617.0" y="171.5" width="2.7" height="2.7" rx="0.8"/><rect x="605.8" y="187.6" width="2.7" height="2.7" rx="0.8"/><rect x="574.8" y="172.3" width="2.7" height="2.7" rx="0.8"/><rect x="588.5" y="145.0" width="2.7" height="2.7" rx="0.8"/><rect x="604.7" y="170.8" width="2.7" height="2.7" rx="0.8"/><rect x="609.4" y="178.8" width="2.7" height="2.7" rx="0.8"/><rect x="563.8" y="178.8" width="2.7" height="2.7" rx="0.8"/><rect x="606.3" y="137.4" width="2.7" height="2.7" rx="0.8"/><rect x="601.6" y="221.6" width="2.7" height="2.7" rx="0.8"/><rect x="578.5" y="153.5" width="2.7" height="2.7" rx="0.8"/><rect x="596.6" y="176.5" width="2.7" height="2.7" rx="0.8"/><rect x="592.9" y="162.2" width="2.7" height="2.7" rx="0.8"/><rect x="595.3" y="172.2" width="2.7" height="2.7" rx="0.8"/><rect x="604.7" y="181.9" width="2.7" height="2.7" rx="0.8"/><rect x="564.8" y="206.5" width="2.7" height="2.7" rx="0.8"/><rect x="570.4" y="180.7" width="2.7" height="2.7" rx="0.8"/><rect x="598.2" y="202.3" width="2.7" height="2.7" rx="0.8"/><rect x="581.4" y="186.9" width="2.7" height="2.7" rx="0.8"/><rect x="597.5" y="144.6" width="2.7" height="2.7" rx="0.8"/><rect x="597.0" y="211.2" width="2.7" height="2.7" rx="0.8"/><rect x="598.7" y="158.4" width="2.7" height="2.7" rx="0.8"/><rect x="601.5" y="166.9" width="2.7" height="2.7" rx="0.8"/><rect x="571.4" y="168.4" width="2.7" height="2.7" rx="0.8"/><rect x="568.3" y="148.1" width="2.7" height="2.7" rx="0.8"/><rect x="603.5" y="213.7" width="2.7" height="2.7" rx="0.8"/><rect x="578.8" y="209.0" width="2.7" height="2.7" rx="0.8"/><rect x="631.3" y="161.0" width="2.7" height="2.7" rx="0.8"/><rect x="592.8" y="199.7" width="2.7" height="2.7" rx="0.8"/><rect x="600.2" y="195.5" width="2.7" height="2.7" rx="0.8"/><rect x="624.5" y="182.8" width="2.7" height="2.7" rx="0.8"/><rect x="575.6" y="173.0" width="2.7" height="2.7" rx="0.8"/><rect x="607.2" y="180.6" width="2.7" height="2.7" rx="0.8"/><rect x="562.7" y="186.0" width="2.7" height="2.7" rx="0.8"/><rect x="576.6" y="186.1" width="2.7" height="2.7" rx="0.8"/><rect x="600.5" y="171.3" width="2.7" height="2.7" rx="0.8"/><rect x="568.7" y="199.4" width="2.7" height="2.7" rx="0.8"/><rect x="576.2" y="203.8" width="2.7" height="2.7" rx="0.8"/><rect x="598.7" y="167.0" width="2.7" height="2.7" rx="0.8"/><rect x="583.4" y="193.9" width="2.7" height="2.7" rx="0.8"/><rect x="568.1" y="162.4" width="2.7" height="2.7" rx="0.8"/><rect x="604.4" y="202.2" width="2.7" height="2.7" rx="0.8"/><rect x="584.3" y="208.0" width="2.7" height="2.7" rx="0.8"/><rect x="570.2" y="222.5" width="2.7" height="2.7" rx="0.8"/><rect x="592.3" y="127.0" width="2.7" height="2.7" rx="0.8"/><rect x="585.2" y="141.9" width="2.7" height="2.7" rx="0.8"/><rect x="601.2" y="178.5" width="2.7" height="2.7" rx="0.8"/><rect x="600.8" y="176.9" width="2.7" height="2.7" rx="0.8"/><rect x="587.2" y="191.4" width="2.7" height="2.7" rx="0.8"/><rect x="581.1" y="163.3" width="2.7" height="2.7" rx="0.8"/><rect x="605.3" y="202.9" width="2.7" height="2.7" rx="0.8"/><rect x="594.2" y="212.8" width="2.7" height="2.7" rx="0.8"/><rect x="606.3" y="163.7" width="2.7" height="2.7" rx="0.8"/><rect x="604.7" y="177.7" width="2.7" height="2.7" rx="0.8"/><rect x="569.2" y="194.1" width="2.7" height="2.7" rx="0.8"/><rect x="614.1" y="169.9" width="2.7" height="2.7" rx="0.8"/><rect x="579.1" y="165.5" width="2.7" height="2.7" rx="0.8"/><rect x="597.5" y="149.8" width="2.7" height="2.7" rx="0.8"/><rect x="632.7" y="146.5" width="2.7" height="2.7" rx="0.8"/><rect x="569.2" y="148.8" width="2.7" height="2.7" rx="0.8"/><rect x="590.9" y="166.5" width="2.7" height="2.7" rx="0.8"/><rect x="576.7" y="184.3" width="2.7" height="2.7" rx="0.8"/><rect x="577.9" y="162.3" width="2.7" height="2.7" rx="0.8"/><rect x="595.8" y="171.0" width="2.7" height="2.7" rx="0.8"/><rect x="609.5" y="185.1" width="2.7" height="2.7" rx="0.8"/><rect x="561.5" y="163.6" width="2.7" height="2.7" rx="0.8"/><rect x="600.1" y="187.1" width="2.7" height="2.7" rx="0.8"/><rect x="578.3" y="183.0" width="2.7" height="2.7" rx="0.8"/><rect x="589.4" y="130.5" width="2.7" height="2.7" rx="0.8"/><rect x="566.7" y="187.3" width="2.7" height="2.7" rx="0.8"/><rect x="592.7" y="156.7" width="2.7" height="2.7" rx="0.8"/><rect x="601.0" y="165.6" width="2.7" height="2.7" rx="0.8"/><rect x="566.8" y="213.4" width="2.7" height="2.7" rx="0.8"/><rect x="582.2" y="163.4" width="2.7" height="2.7" rx="0.8"/><rect x="570.6" y="187.6" width="2.7" height="2.7" rx="0.8"/><rect x="595.2" y="166.3" width="2.7" height="2.7" rx="0.8"/><rect x="570.7" y="176.3" width="2.7" height="2.7" rx="0.8"/><rect x="589.2" y="206.3" width="2.7" height="2.7" rx="0.8"/><rect x="564.8" y="149.2" width="2.7" height="2.7" rx="0.8"/><rect x="600.3" y="189.5" width="2.7" height="2.7" rx="0.8"/><rect x="603.0" y="170.2" width="2.7" height="2.7" rx="0.8"/><rect x="635.8" y="128.2" width="2.7" height="2.7" rx="0.8"/><rect x="570.2" y="179.0" width="2.7" height="2.7" rx="0.8"/><rect x="569.9" y="196.2" width="2.7" height="2.7" rx="0.8"/><rect x="592.8" y="199.0" width="2.7" height="2.7" rx="0.8"/><rect x="609.5" y="209.6" width="2.7" height="2.7" rx="0.8"/><rect x="595.4" y="155.2" width="2.7" height="2.7" rx="0.8"/><rect x="589.8" y="167.6" width="2.7" height="2.7" rx="0.8"/><rect x="602.4" y="188.8" width="2.7" height="2.7" rx="0.8"/><rect x="592.7" y="174.1" width="2.7" height="2.7" rx="0.8"/><rect x="584.0" y="178.4" width="2.7" height="2.7" rx="0.8"/><rect x="594.0" y="170.1" width="2.7" height="2.7" rx="0.8"/><rect x="585.2" y="149.2" width="2.7" height="2.7" rx="0.8"/><rect x="622.7" y="158.2" width="2.7" height="2.7" rx="0.8"/><rect x="587.3" y="184.9" width="2.7" height="2.7" rx="0.8"/><rect x="568.7" y="128.3" width="2.7" height="2.7" rx="0.8"/><rect x="622.6" y="184.7" width="2.7" height="2.7" rx="0.8"/><rect x="621.5" y="157.4" width="2.7" height="2.7" rx="0.8"/><rect x="587.3" y="190.4" width="2.7" height="2.7" rx="0.8"/><rect x="588.6" y="156.2" width="2.7" height="2.7" rx="0.8"/><rect x="614.0" y="160.9" width="2.7" height="2.7" rx="0.8"/><rect x="600.8" y="197.5" width="2.7" height="2.7" rx="0.8"/><rect x="597.4" y="143.3" width="2.7" height="2.7" rx="0.8"/><rect x="566.3" y="182.4" width="2.7" height="2.7" rx="0.8"/><rect x="589.4" y="181.5" width="2.7" height="2.7" rx="0.8"/><rect x="594.1" y="153.8" width="2.7" height="2.7" rx="0.8"/><rect x="581.8" y="179.5" width="2.7" height="2.7" rx="0.8"/><rect x="585.9" y="144.5" width="2.7" height="2.7" rx="0.8"/><rect x="567.0" y="165.0" width="2.7" height="2.7" rx="0.8"/><rect x="630.8" y="128.2" width="2.7" height="2.7" rx="0.8"/><rect x="590.1" y="133.6" width="2.7" height="2.7" rx="0.8"/><rect x="601.5" y="206.9" width="2.7" height="2.7" rx="0.8"/><rect x="589.9" y="168.9" width="2.7" height="2.7" rx="0.8"/><rect x="600.3" y="215.9" width="2.7" height="2.7" rx="0.8"/><rect x="595.1" y="149.9" width="2.7" height="2.7" rx="0.8"/><rect x="573.3" y="168.2" width="2.7" height="2.7" rx="0.8"/><rect x="627.2" y="140.2" width="2.7" height="2.7" rx="0.8"/><rect x="585.6" y="214.6" width="2.7" height="2.7" rx="0.8"/><rect x="572.6" y="198.3" width="2.7" height="2.7" rx="0.8"/><rect x="590.2" y="152.5" width="2.7" height="2.7" rx="0.8"/><rect x="590.4" y="198.4" width="2.7" height="2.7" rx="0.8"/></g>
<path d="M565.2 125.3L568.0 131.0L567.2 135.0L565.6 138.2L568.0 140.2L572.0 141.8L574.0 144.6L573.6 147.8L572.4 151.8L573.6 155.0L573.2 159.8L571.2 163.0L572.0 167.8L568.0 173.4L570.4 176.6L575.6 179.0L571.2 181.4L568.0 183.0L565.6 184.6L573.6 187.0L576.0 191.8L580.8 191.0L583.2 194.2L588.8 198.2L584.8 201.4L580.8 199.8L579.2 203.8L580.8 206.2L579.2 209.4L583.0 214.6L580.8 217.4L585.2 223.0L585.0 227.3L538.8 227.3L538.8 125.3Z" fill="#f0f0f0" stroke="none" stroke-width="1.3" stroke-linejoin="miter" />
<path d="M556.0 125.3L565.2 125.3L568.0 131.0L567.2 135.0L565.6 138.2L568.0 140.2L572.0 141.8L572.0 145.0L571.2 146.2L563.2 149.4L562.4 147.0L559.2 143.0L562.0 140.2L560.0 137.0L556.4 132.6Z" fill="#cfcfcf" stroke="none" stroke-width="1.3" stroke-linejoin="miter" />
<path d="M538.8 125.3L556.0 125.3L556.4 132.6L560.0 137.0L562.0 140.2L559.2 143.0L562.4 147.0L563.2 149.4L555.2 155.8L548.0 163.0L547.2 167.8L546.4 171.0L538.8 171.8Z" fill="#848484" stroke="none" stroke-width="1.3" stroke-linejoin="miter" />
<path d="M549.0 138.0L556.0 133.0L560.0 137.0L562.0 140.2L559.2 143.0L562.4 147.0L563.2 149.4L555.2 155.8L550.0 161.0L549.0 150.0Z" fill="#a8a8a8" stroke="none" stroke-width="1.3" stroke-linejoin="miter" />
<path d="M563.2 149.4L564.8 150.2L560.8 155.0L560.0 158.2L552.0 162.2L549.6 165.0L548.8 171.8L546.4 171.0L547.2 167.8L548.0 163.0L555.2 155.8Z" fill="#d6d6d6" stroke="none" stroke-width="1.3" stroke-linejoin="miter" />
<path d="M538.8 125.3L547.0 125.3L545.0 131.0L541.0 134.0L538.8 136.0Z" fill="#1a1a1a" stroke="none" stroke-width="1.3" stroke-linejoin="miter" />
<rect x="540" y="130" width="1.6" height="2.4" fill="#fff"/>
<path d="M544.8 137.8L548.0 130.6L550.8 130.2L555.2 137.8Z" fill="#5a5a5a" stroke="#000" stroke-width="1.5" stroke-linejoin="miter" />
<path d="M551.3 141.0L553.6 143.3L551.3 145.6L549.0 143.3Z" fill="#fff" stroke="#000" stroke-width="1.5" stroke-linejoin="miter" />
<ellipse cx="546" cy="149" rx="1.3" ry="4" fill="#222"/>
<path d="M538.8 172.0L546.4 171.0L550.4 176.6L546.4 183.0L538.8 186.0Z" fill="#c4c4c4" stroke="none" stroke-width="1.3" stroke-linejoin="miter" />
<path d="M548.0 198.2L552.0 196.6L554.4 202.2L547.2 203.0Z" fill="#9a9a9a" stroke="none" stroke-width="1.3" stroke-linejoin="miter" />
<path d="M538.8 203.0L557.6 203.0L551.2 208.2L544.0 211.0L538.8 214.2Z" fill="#d8d8d8" stroke="none" stroke-width="1.3" stroke-linejoin="miter" />
<ellipse cx="542.2" cy="178.6" rx="4" ry="4.6" fill="#fff" stroke="#000" stroke-width="1.2"/>
<ellipse cx="541.6" cy="178.8" rx="2.6" ry="3" fill="#111"/>
<path d="M556.0 125.3L556.4 132.6L560.0 137.0L562.0 140.2L559.2 143.0L562.4 147.0L563.2 149.4L555.2 155.8L548.0 163.0L547.2 167.8L546.4 171.0L538.8 171.8" fill="none" stroke="#000" stroke-width="1.8" stroke-linejoin="miter" />
<path d="M561.2 125.3L561.6 130.2L559.6 133.0L561.6 133.4L564.0 131.0L564.8 125.3" fill="none" stroke="#000" stroke-width="1.6" stroke-linejoin="miter" />
<path d="M565.2 125.3L568.0 131.0L567.2 135.0L565.6 138.2L568.0 140.2L572.0 141.8L574.0 144.6L573.6 147.8L572.4 151.8L573.6 155.0L573.2 159.8L571.2 163.0L572.0 167.8L568.0 173.4L570.4 176.6L575.6 179.0L571.2 181.4L568.0 183.0L565.6 184.6L573.6 187.0L576.0 191.8L580.8 191.0L583.2 194.2L588.8 198.2L584.8 201.4L580.8 199.8L579.2 203.8L580.8 206.2L579.2 209.4L570.4 213.0L560.8 204.6" fill="none" stroke="#000" stroke-width="1.7" stroke-linejoin="miter" />
<path d="M566.0 131.8L565.6 135.0L564.0 138.2L566.4 140.2L570.4 142.6L572.0 145.0L571.2 146.2L563.2 149.4" fill="none" stroke="#000" stroke-width="1.7" stroke-linejoin="miter" />
<path d="M564.8 150.2L560.8 155.0L560.0 158.2L552.0 162.2L549.6 165.0L548.8 171.8L548.0 173.4L550.4 176.6" fill="none" stroke="#000" stroke-width="1.6" stroke-linejoin="miter" />
<path d="M556.0 165.0L552.0 171.0L550.8 175.8L546.4 183.0L543.0 186.0L538.8 188.0" fill="none" stroke="#000" stroke-width="1.6" stroke-linejoin="miter" />
<rect x="564.8" y="157" width="1.8" height="1.8" fill="#000"/>
<path d="M538.8 190.0L542.0 188.0L545.0 190.5L543.0 194.0L538.8 196.0" fill="none" stroke="#000" stroke-width="1.5" stroke-linejoin="miter" />
<path d="M552.0 185.0L556.0 189.0L553.0 193.0L557.0 196.0" fill="none" stroke="#000" stroke-width="1.5" stroke-linejoin="miter" />
<path d="M574.0 196.0L577.0 199.0L575.0 203.0L578.0 207.0" fill="none" stroke="#000" stroke-width="1.5" stroke-linejoin="miter" />
<path d="M565.0 207.0L568.0 211.0L572.0 208.0" fill="none" stroke="#000" stroke-width="1.5" stroke-linejoin="miter" />
<path d="M563.2 185.4L560.0 191.0L562.4 191.8L563.2 187.8" fill="none" stroke="#000" stroke-width="1.5" stroke-linejoin="miter" />
<path d="M569.6 188.6L566.4 195.8L564.0 200.6L560.0 197.4L556.0 192.6" fill="none" stroke="#000" stroke-width="1.6" stroke-linejoin="miter" />
<path d="M550.0 190.0L554.4 193.4L558.4 202.2L561.6 196.6L564.0 201.4L571.2 190.2L573.6 192.6L570.4 201.4L573.6 204.6" fill="none" stroke="#000" stroke-width="1.6" stroke-linejoin="miter" />
<path d="M546.0 196.0L548.0 198.2L552.0 196.6L554.4 202.2L547.2 203.0L543.0 201.0" fill="none" stroke="#000" stroke-width="1.5" stroke-linejoin="miter" />
<path d="M538.8 205.0L546.0 203.5L552.0 205.0" fill="none" stroke="#000" stroke-width="1.5" stroke-linejoin="miter" />
<path d="M538.8 214.2L544.0 211.0L551.2 208.2L554.4 211.0L556.0 215.8L560.0 218.6L563.2 215.8L560.8 209.4L559.2 205.4L557.6 203.0L555.0 199.0" fill="none" stroke="#000" stroke-width="1.7" stroke-linejoin="miter" />
<path d="M564.8 203.0L569.6 206.2L572.0 203.0" fill="none" stroke="#000" stroke-width="1.6" stroke-linejoin="miter" />
<path d="M580.8 206.2L584.0 204.6L586.0 202.0" fill="none" stroke="#000" stroke-width="1.5" stroke-linejoin="miter" />
<path d="M586.0 196.9L589.4 199.2L586.0 201.5L582.6 199.2Z" fill="#fff" stroke="#000" stroke-width="1.6" stroke-linejoin="miter" />
<path d="M579.6 211.8L583.2 214.6L579.6 217.4L576.0 214.6Z" fill="#f0f0f0" stroke="#000" stroke-width="1.6" stroke-linejoin="miter" />
<path d="M585.8 206.5L588.6 209.7L585.8 212.9L583.0 209.7Z" fill="#bbb" stroke="#000" stroke-width="1.6" stroke-linejoin="miter" />
<circle cx="585.8" cy="209.7" r="1.1" fill="#333"/>
<path d="M585.2 217.5L587.1 220.4L585.2 223.3L583.3 220.4Z" fill="#fff" stroke="#000" stroke-width="1.6" stroke-linejoin="miter" />
<path d="M595.2 207.2L598.0 210.0L595.2 212.8L592.4 210.0Z" fill="#fff" stroke="#000" stroke-width="1.6" stroke-linejoin="miter" />
<path d="M574.4 227.0L574.4 220.6L580.8 217.4" fill="none" stroke="#000" stroke-width="1.5" stroke-linejoin="miter" />
<path d="M583.0 227.0L585.2 223.4L587.5 227.0" fill="none" stroke="#000" stroke-width="1.5" stroke-linejoin="miter" />
<path d="M588.0 217.0L586.5 214.0L588.5 212.0" fill="none" stroke="#000" stroke-width="1.4000000000000001" stroke-linejoin="miter" />
<path d="M538.8 220.0L542.0 221.4L545.0 224.0L543.0 227.0" fill="none" stroke="#000" stroke-width="1.6" stroke-linejoin="miter" />
<path d="M548.0 227.0L551.0 223.5L554.0 227.0" fill="none" stroke="#000" stroke-width="1.4000000000000001" stroke-linejoin="miter" />
<path d="M561.0 227.0L564.8 221.8L568.0 227.0" fill="none" stroke="#000" stroke-width="1.5" stroke-linejoin="miter" />
<path d="M569.0 227.0L571.0 224.0L573.0 227.0" fill="none" stroke="#000" stroke-width="1.4000000000000001" stroke-linejoin="miter" />
<path d="M600.0 217.6L602.4 213.6L602.0 210.4L605.6 206.4L610.0 211.2L614.8 206.8L616.8 209.6L614.0 214.0L614.4 215.6L617.6 219.2L613.6 222.0L608.0 222.8L603.2 223.2L598.8 219.6Z" fill="#ececec" stroke="#000" stroke-width="1.7" stroke-linejoin="miter" />
<g transform="translate(555.3 177.3) rotate(-50)" fill="none" stroke="#ff6347" stroke-width="1.2" stroke-linejoin="round">
<path d="M-24.0 -0.1L-21.8 -1.1L-19.6 -2.6L-17.4 -2.8L-15.1 -3.4L-12.9 -3.9L-10.7 -4.1L-8.5 -4.2L-6.3 -4.3L-4.1 -4.3L-1.9 -4.6L0.4 -4.3L2.6 -4.9L4.8 -4.0L7.0 -5.0L9.2 -4.0L11.4 -4.1L13.6 -3.6L15.9 -3.6L18.1 -3.0L20.3 -1.4L22.5 0.6L22.5 -0.2L20.3 2.0L18.1 3.1L15.9 3.7L13.6 3.1L11.4 3.4L9.2 3.8L7.0 4.8L4.8 4.0L2.6 4.4L0.4 5.1L-1.9 4.5L-4.1 4.6L-6.3 4.0L-8.5 4.2L-10.7 4.1L-12.9 2.8L-15.1 3.3L-17.4 3.2L-19.6 2.3L-21.8 1.1L-24.0 0.3Z" fill="#ff6347" fill-opacity="0.13"/>
<path d="M-20.0 -0.1L-18.1 -1.6L-16.1 -1.5L-14.2 -2.1L-12.3 -2.4L-10.4 -2.8L-8.4 -3.2L-6.5 -2.9L-4.6 -3.5L-2.6 -3.7L-0.7 -3.3L1.2 -3.5L3.1 -4.0L5.1 -3.5L7.0 -3.8L8.9 -2.9L10.9 -2.7L12.8 -2.8L14.7 -2.1L16.6 -2.5L18.6 -1.4L20.5 -0.5L20.5 -0.1L18.6 0.9L16.6 1.6L14.7 2.6L12.8 2.5L10.9 2.6L8.9 2.9L7.0 3.2L5.1 3.5L3.1 3.2L1.2 3.7L-0.7 3.4L-2.6 3.4L-4.6 3.1L-6.5 3.4L-8.4 3.0L-10.4 2.2L-12.3 2.6L-14.2 2.6L-16.1 1.6L-18.1 1.5L-20.0 -0.2Z"/>
<path d="M-14.0 0.1L-12.5 -0.5L-11.0 -1.3L-9.4 -1.4L-7.9 -1.3L-6.4 -1.5L-4.9 -2.4L-3.3 -2.5L-1.8 -2.8L-0.3 -2.5L1.2 -2.9L2.8 -2.6L4.3 -2.4L5.8 -2.7L7.3 -2.3L8.9 -2.3L10.4 -2.7L11.9 -2.0L13.4 -2.0L15.0 -1.5L16.5 -1.2L18.0 0.2L18.0 -0.1L16.5 0.6L15.0 1.5L13.4 2.1L11.9 1.8L10.4 1.9L8.9 2.2L7.3 2.9L5.8 3.0L4.3 2.7L2.8 2.9L1.2 2.8L-0.3 2.3L-1.8 1.9L-3.3 2.4L-4.9 2.1L-6.4 1.7L-7.9 1.4L-9.4 1.3L-11.0 1.1L-12.5 0.5L-14.0 -0.2Z"/>
<path d="M-7.0 0.4L-6.0 -0.4L-5.0 -0.3L-3.9 -0.7L-2.9 -0.9L-1.9 -1.4L-0.9 -0.9L0.2 -1.7L1.2 -1.6L2.2 -1.5L3.2 -1.3L4.3 -1.8L5.3 -1.2L6.3 -1.1L7.3 -1.7L8.4 -1.3L9.4 -1.7L10.4 -1.3L11.4 -1.4L12.5 -0.5L13.5 -0.6L14.5 0.4L14.5 0.2L13.5 0.9L12.5 0.6L11.4 0.7L10.4 1.3L9.4 1.1L8.4 1.6L7.3 1.4L6.3 1.5L5.3 1.9L4.3 1.5L3.2 1.2L2.2 1.2L1.2 1.4L0.2 1.3L-0.9 1.3L-1.9 1.1L-2.9 1.1L-3.9 0.8L-5.0 0.8L-6.0 0.7L-7.0 -0.3Z" fill="#ffc8bc" fill-opacity="0.5"/>
</g>
</g>
<rect x="538.75" y="9.00" width="98.75" height="102.40" fill="none" stroke="#000" stroke-width="1.2"/>
<path d="M540.08 9.00v4.0M540.08 111.40v-4.0M545.10 9.00v7.0M545.10 111.40v-7.0M550.12 9.00v4.0M550.12 111.40v-4.0M555.14 9.00v4.0M555.14 111.40v-4.0M560.16 9.00v4.0M560.16 111.40v-4.0M565.18 9.00v7.0M565.18 111.40v-7.0M570.20 9.00v4.0M570.20 111.40v-4.0M575.22 9.00v4.0M575.22 111.40v-4.0M580.24 9.00v4.0M580.24 111.40v-4.0M585.26 9.00v7.0M585.26 111.40v-7.0M590.28 9.00v4.0M590.28 111.40v-4.0M595.30 9.00v4.0M595.30 111.40v-4.0M600.32 9.00v4.0M600.32 111.40v-4.0M605.34 9.00v7.0M605.34 111.40v-7.0M610.36 9.00v4.0M610.36 111.40v-4.0M615.38 9.00v4.0M615.38 111.40v-4.0M620.40 9.00v4.0M620.40 111.40v-4.0M625.42 9.00v7.0M625.42 111.40v-7.0M630.44 9.00v4.0M630.44 111.40v-4.0M635.46 9.00v4.0M635.46 111.40v-4.0" stroke="#000" stroke-width="1.25" fill="none"/>
<rect x="538.75" y="125.25" width="98.75" height="102.05" fill="none" stroke="#000" stroke-width="1.2"/>
<path d="M540.08 125.25v4.0M540.08 227.30v-4.0M545.10 125.25v7.0M545.10 227.30v-7.0M550.12 125.25v4.0M550.12 227.30v-4.0M555.14 125.25v4.0M555.14 227.30v-4.0M560.16 125.25v4.0M560.16 227.30v-4.0M565.18 125.25v7.0M565.18 227.30v-7.0M570.20 125.25v4.0M570.20 227.30v-4.0M575.22 125.25v4.0M575.22 227.30v-4.0M580.24 125.25v4.0M580.24 227.30v-4.0M585.26 125.25v7.0M585.26 227.30v-7.0M590.28 125.25v4.0M590.28 227.30v-4.0M595.30 125.25v4.0M595.30 227.30v-4.0M600.32 125.25v4.0M600.32 227.30v-4.0M605.34 125.25v7.0M605.34 227.30v-7.0M610.36 125.25v4.0M610.36 227.30v-4.0M615.38 125.25v4.0M615.38 227.30v-4.0M620.40 125.25v4.0M620.40 227.30v-4.0M625.42 125.25v7.0M625.42 227.30v-7.0M630.44 125.25v4.0M630.44 227.30v-4.0M635.46 125.25v4.0M635.46 227.30v-4.0M538.75 128.65h4.0M637.50 128.65h-4.0M538.75 133.75h4.0M637.50 133.75h-4.0M538.75 138.85h7.0M637.50 138.85h-7.0M538.75 143.95h4.0M637.50 143.95h-4.0M538.75 149.05h4.0M637.50 149.05h-4.0M538.75 154.15h4.0M637.50 154.15h-4.0M538.75 159.25h7.0M637.50 159.25h-7.0M538.75 164.35h4.0M637.50 164.35h-4.0M538.75 169.45h4.0M637.50 169.45h-4.0M538.75 174.55h4.0M637.50 174.55h-4.0M538.75 179.65h7.0M637.50 179.65h-7.0M538.75 184.75h4.0M637.50 184.75h-4.0M538.75 189.85h4.0M637.50 189.85h-4.0M538.75 194.95h4.0M637.50 194.95h-4.0M538.75 200.05h7.0M637.50 200.05h-7.0M538.75 205.15h4.0M637.50 205.15h-4.0M538.75 210.25h4.0M637.50 210.25h-4.0M538.75 215.35h4.0M637.50 215.35h-4.0M538.75 220.45h7.0M637.50 220.45h-7.0M538.75 225.55h4.0M637.50 225.55h-4.0" stroke="#000" stroke-width="1.25" fill="none"/>
<rect x="659.50" y="125.25" width="98.50" height="102.05" fill="none" stroke="#000" stroke-width="1.2"/>
<path d="M660.55 125.25v4.0M660.55 227.30v-4.0M665.50 125.25v7.0M665.50 227.30v-7.0M670.45 125.25v4.0M670.45 227.30v-4.0M675.40 125.25v4.0M675.40 227.30v-4.0M680.35 125.25v4.0M680.35 227.30v-4.0M685.30 125.25v7.0M685.30 227.30v-7.0M690.25 125.25v4.0M690.25 227.30v-4.0M695.20 125.25v4.0M695.20 227.30v-4.0M700.15 125.25v4.0M700.15 227.30v-4.0M705.10 125.25v7.0M705.10 227.30v-7.0M710.05 125.25v4.0M710.05 227.30v-4.0M715.00 125.25v4.0M715.00 227.30v-4.0M719.95 125.25v4.0M719.95 227.30v-4.0M724.90 125.25v7.0M724.90 227.30v-7.0M729.85 125.25v4.0M729.85 227.30v-4.0M734.80 125.25v4.0M734.80 227.30v-4.0M739.75 125.25v4.0M739.75 227.30v-4.0M744.70 125.25v7.0M744.70 227.30v-7.0M749.65 125.25v4.0M749.65 227.30v-4.0M754.60 125.25v4.0M754.60 227.30v-4.0" stroke="#000" stroke-width="1.25" fill="none"/>
<g style="font-family:'DejaVu Serif','Liberation Serif',serif;font-size:11px" fill="#000">
<text transform="translate(545.1 243.3) rotate(-45)" text-anchor="middle" dominant-baseline="central">0.3</text>
<text transform="translate(565.2 243.3) rotate(-45)" text-anchor="middle" dominant-baseline="central">0.6</text>
<text transform="translate(585.3 243.3) rotate(-45)" text-anchor="middle" dominant-baseline="central">0.9</text>
<text transform="translate(605.3 243.3) rotate(-45)" text-anchor="middle" dominant-baseline="central">1.2</text>
<text transform="translate(625.4 243.3) rotate(-45)" text-anchor="middle" dominant-baseline="central">1.5</text>
<text transform="translate(665.5 246.3) rotate(-45)" text-anchor="middle" dominant-baseline="central">−1.8</text>
<text transform="translate(685.3 246.3) rotate(-45)" text-anchor="middle" dominant-baseline="central">−1.2</text>
<text transform="translate(705.1 246.3) rotate(-45)" text-anchor="middle" dominant-baseline="central">−0.6</text>
<text transform="translate(724.9 243.3) rotate(-45)" text-anchor="middle" dominant-baseline="central">0.0</text>
<text transform="translate(744.7 243.3) rotate(-45)" text-anchor="middle" dominant-baseline="central">0.6</text>
<text transform="translate(522.3 144.8) rotate(-45)" text-anchor="middle" dominant-baseline="central">0.6</text>
<text transform="translate(522.3 165.2) rotate(-45)" text-anchor="middle" dominant-baseline="central">0.0</text>
<text transform="translate(519.0 185.6) rotate(-45)" text-anchor="middle" dominant-baseline="central">−0.6</text>
<text transform="translate(519.0 206.0) rotate(-45)" text-anchor="middle" dominant-baseline="central">−1.2</text>
<text transform="translate(519.0 226.4) rotate(-45)" text-anchor="middle" dominant-baseline="central">−1.8</text>
</g>
<g style="font-family:'DejaVu Serif','Liberation Serif',serif;font-size:12.4px" fill="#000">
<text x="587.6" y="271.8" text-anchor="middle">C/O</text>
<text x="708.6" y="271.8" text-anchor="middle">[Fe/H]</text>
<text transform="translate(503.6 177.2) rotate(-90)" text-anchor="middle">[Fe/H]</text>
</g>
<rect x="659.1" y="53.4" width="100.2" height="26" rx="2" fill="#fff" stroke="#d0d0d0" stroke-width="1"/>
<rect x="662.2" y="57.4" width="16.5" height="5.7" fill="none" stroke="#000" stroke-width="1.1"/>
<rect x="662.2" y="68.6" width="16.5" height="5.7" fill="none" stroke="#ff6347" stroke-width="1"/>
<g style="font-family:'DejaVu Serif','Liberation Serif',serif;font-size:8.05px" fill="#000"><text x="685.4" y="62.9">Magellan/IMACS</text><text x="685.4" y="74.4">JWST/NIRSpec</text></g>
</svg>
</body></html>
